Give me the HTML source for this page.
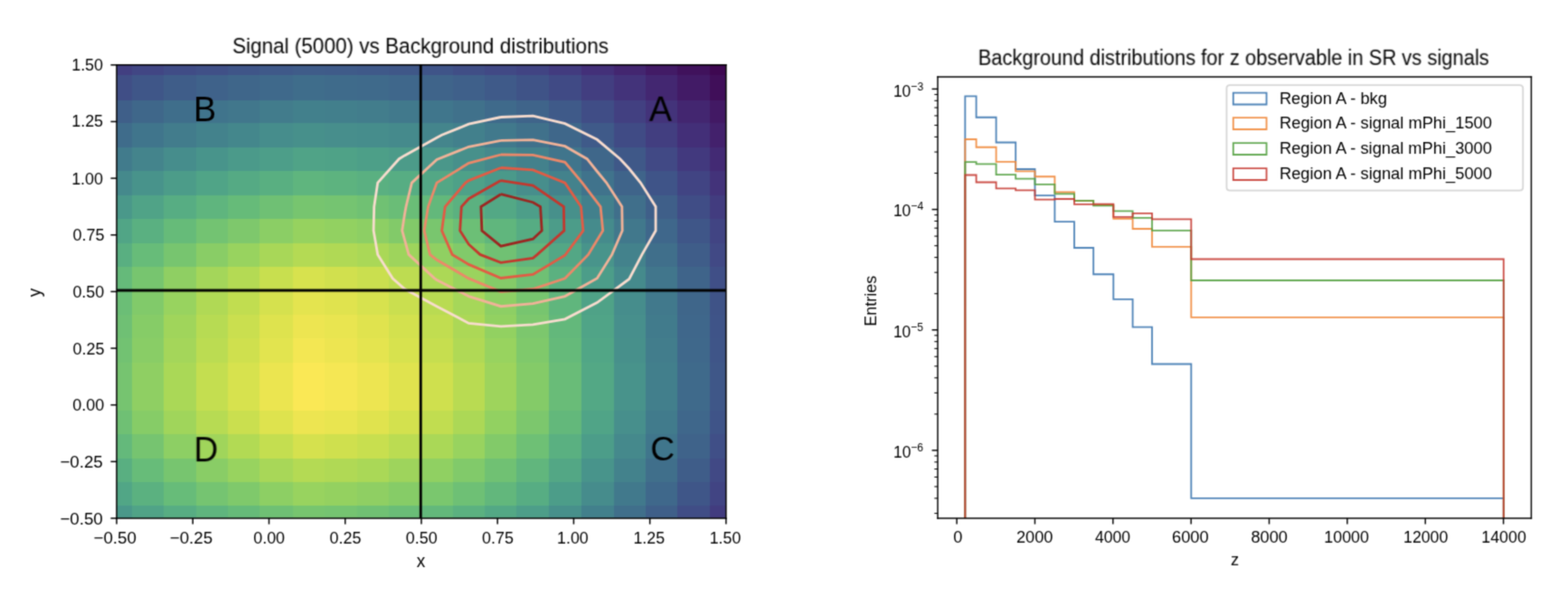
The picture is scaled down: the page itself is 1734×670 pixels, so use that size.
<!DOCTYPE html>
<html lang="en"><head><meta charset="utf-8"><title>Signal vs Background distributions</title>
<style>
html,body{margin:0;padding:0;background:#fff;}
body{width:1734px;height:670px;overflow:hidden;position:relative;font-family:"Liberation Sans",sans-serif;}
svg{display:block;position:absolute;left:0;top:0;}
.t{position:absolute;white-space:nowrap;color:transparent;line-height:1;margin:0;padding:0;font-weight:normal;overflow:hidden;}
.t sup{font-size:70%;line-height:0;}
</style></head><body>
<svg width="1734" height="670" viewBox="0 0 1248.48 482.4"><defs><style type="text/css">*{stroke-linejoin: round; stroke-linecap: butt} text{font-family:"Liberation Sans",sans-serif;fill:#000000;stroke:none}</style></defs><filter id="soft" filterUnits="userSpaceOnUse" x="0" y="0" width="1248.48" height="482.4" color-interpolation-filters="sRGB"><feConvolveMatrix order="3" kernelMatrix="0.03607 0.11778 0.03607 0.11778 0.38462 0.11778 0.03607 0.11778 0.03607" edgeMode="duplicate" preserveAlpha="true"/></filter><g id="figure_1" filter="url(#soft)"><g id="patch_1"><path d="M 0 482.4 L 1248.48 482.4 L 1248.48 0 L 0 0 z " style="fill: #ffffff"/></g><g id="axes_1"><g id="patch_2"><path d="M 92.88 412.56 L 578.088 412.56 L 578.088 51.696 L 92.88 51.696 z " style="fill: #ffffff"/></g><g id="QuadMesh_1" shape-rendering="crispEdges"><path d="M 79.673652 421.850568 L 105.107943 421.850568 L 105.107943 402.291544 L 79.673652 402.291544 L 79.673652 421.850568 " clip-path="url(#p8069fcb72d)" style="fill: #4a988a"/><path d="M 105.107943 421.850568 L 130.542234 421.850568 L 130.542234 402.291544 L 105.107943 402.291544 L 105.107943 421.850568 " clip-path="url(#p8069fcb72d)" style="fill: #50a387"/><path d="M 130.542234 421.850568 L 155.976525 421.850568 L 155.976525 402.291544 L 130.542234 402.291544 L 130.542234 421.850568 " clip-path="url(#p8069fcb72d)" style="fill: #57ad83"/><path d="M 155.976525 421.850568 L 181.410817 421.850568 L 181.410817 402.291544 L 155.976525 402.291544 L 155.976525 421.850568 " clip-path="url(#p8069fcb72d)" style="fill: #5fb57e"/><path d="M 181.410817 421.850568 L 206.845108 421.850568 L 206.845108 402.291544 L 181.410817 402.291544 L 181.410817 421.850568 " clip-path="url(#p8069fcb72d)" style="fill: #66bb79"/><path d="M 206.845108 421.850568 L 233.257641 421.850568 L 233.257641 402.291544 L 206.845108 402.291544 L 206.845108 421.850568 " clip-path="url(#p8069fcb72d)" style="fill: #6fc074"/><path d="M 233.257641 421.850568 L 258.691932 421.850568 L 258.691932 402.291544 L 233.257641 402.291544 L 233.257641 421.850568 " clip-path="url(#p8069fcb72d)" style="fill: #77c56f"/><path d="M 258.691932 421.850568 L 284.126223 421.850568 L 284.126223 402.291544 L 258.691932 402.291544 L 258.691932 421.850568 " clip-path="url(#p8069fcb72d)" style="fill: #75c471"/><path d="M 284.126223 421.850568 L 309.560514 421.850568 L 309.560514 402.291544 L 284.126223 402.291544 L 284.126223 421.850568 " clip-path="url(#p8069fcb72d)" style="fill: #70c173"/><path d="M 309.560514 421.850568 L 334.994806 421.850568 L 334.994806 402.291544 L 309.560514 402.291544 L 309.560514 421.850568 " clip-path="url(#p8069fcb72d)" style="fill: #6abd77"/><path d="M 334.994806 421.850568 L 360.429097 421.850568 L 360.429097 402.291544 L 334.994806 402.291544 L 334.994806 421.850568 " clip-path="url(#p8069fcb72d)" style="fill: #63b87b"/><path d="M 360.429097 421.850568 L 385.863388 421.850568 L 385.863388 402.291544 L 360.429097 402.291544 L 360.429097 421.850568 " clip-path="url(#p8069fcb72d)" style="fill: #5bb180"/><path d="M 385.863388 421.850568 L 411.297679 421.850568 L 411.297679 402.291544 L 385.863388 402.291544 L 385.863388 421.850568 " clip-path="url(#p8069fcb72d)" style="fill: #53a885"/><path d="M 411.297679 421.850568 L 436.73197 421.850568 L 436.73197 402.291544 L 411.297679 402.291544 L 411.297679 421.850568 " clip-path="url(#p8069fcb72d)" style="fill: #4d9e89"/><path d="M 436.73197 421.850568 L 463.144503 421.850568 L 463.144503 402.291544 L 436.73197 402.291544 L 436.73197 421.850568 " clip-path="url(#p8069fcb72d)" style="fill: #47908b"/><path d="M 463.144503 421.850568 L 488.578794 421.850568 L 488.578794 402.291544 L 463.144503 402.291544 L 463.144503 421.850568 " clip-path="url(#p8069fcb72d)" style="fill: #42808c"/><path d="M 488.578794 421.850568 L 514.013086 421.850568 L 514.013086 402.291544 L 488.578794 402.291544 L 488.578794 421.850568 " clip-path="url(#p8069fcb72d)" style="fill: #406f8b"/><path d="M 514.013086 421.850568 L 539.447377 421.850568 L 539.447377 402.291544 L 514.013086 402.291544 L 514.013086 421.850568 " clip-path="url(#p8069fcb72d)" style="fill: #3f5f89"/><path d="M 539.447377 421.850568 L 564.881668 421.850568 L 564.881668 402.291544 L 539.447377 402.291544 L 539.447377 421.850568 " clip-path="url(#p8069fcb72d)" style="fill: #404d86"/><path d="M 564.881668 421.850568 L 590.315959 421.850568 L 590.315959 402.291544 L 564.881668 402.291544 L 564.881668 421.850568 " clip-path="url(#p8069fcb72d)" style="fill: #423c7f"/><path d="M 79.673652 402.291544 L 105.107943 402.291544 L 105.107943 383.71047 L 79.673652 383.71047 L 79.673652 402.291544 " clip-path="url(#p8069fcb72d)" style="fill: #51a686"/><path d="M 105.107943 402.291544 L 130.542234 402.291544 L 130.542234 383.71047 L 105.107943 383.71047 L 105.107943 402.291544 " clip-path="url(#p8069fcb72d)" style="fill: #5bb180"/><path d="M 130.542234 402.291544 L 155.976525 402.291544 L 155.976525 383.71047 L 130.542234 383.71047 L 130.542234 402.291544 " clip-path="url(#p8069fcb72d)" style="fill: #67bc79"/><path d="M 155.976525 402.291544 L 181.410817 402.291544 L 181.410817 383.71047 L 155.976525 383.71047 L 155.976525 402.291544 " clip-path="url(#p8069fcb72d)" style="fill: #75c471"/><path d="M 181.410817 402.291544 L 206.845108 402.291544 L 206.845108 383.71047 L 181.410817 383.71047 L 181.410817 402.291544 " clip-path="url(#p8069fcb72d)" style="fill: #7fc96b"/><path d="M 206.845108 402.291544 L 233.257641 402.291544 L 233.257641 383.71047 L 206.845108 383.71047 L 206.845108 402.291544 " clip-path="url(#p8069fcb72d)" style="fill: #8dcf64"/><path d="M 233.257641 402.291544 L 258.691932 402.291544 L 258.691932 383.71047 L 233.257641 383.71047 L 233.257641 402.291544 " clip-path="url(#p8069fcb72d)" style="fill: #98d35f"/><path d="M 258.691932 402.291544 L 284.126223 402.291544 L 284.126223 383.71047 L 258.691932 383.71047 L 258.691932 402.291544 " clip-path="url(#p8069fcb72d)" style="fill: #94d160"/><path d="M 284.126223 402.291544 L 309.560514 402.291544 L 309.560514 383.71047 L 284.126223 383.71047 L 284.126223 402.291544 " clip-path="url(#p8069fcb72d)" style="fill: #8fcf63"/><path d="M 309.560514 402.291544 L 334.994806 402.291544 L 334.994806 383.71047 L 309.560514 383.71047 L 309.560514 402.291544 " clip-path="url(#p8069fcb72d)" style="fill: #86cc67"/><path d="M 334.994806 402.291544 L 360.429097 402.291544 L 360.429097 383.71047 L 334.994806 383.71047 L 334.994806 402.291544 " clip-path="url(#p8069fcb72d)" style="fill: #7ac76e"/><path d="M 360.429097 402.291544 L 385.863388 402.291544 L 385.863388 383.71047 L 360.429097 383.71047 L 360.429097 402.291544 " clip-path="url(#p8069fcb72d)" style="fill: #6ec075"/><path d="M 385.863388 402.291544 L 411.297679 402.291544 L 411.297679 383.71047 L 385.863388 383.71047 L 385.863388 402.291544 " clip-path="url(#p8069fcb72d)" style="fill: #62b77c"/><path d="M 411.297679 402.291544 L 436.73197 402.291544 L 436.73197 383.71047 L 411.297679 383.71047 L 411.297679 402.291544 " clip-path="url(#p8069fcb72d)" style="fill: #57ad83"/><path d="M 436.73197 402.291544 L 463.144503 402.291544 L 463.144503 383.71047 L 436.73197 383.71047 L 436.73197 402.291544 " clip-path="url(#p8069fcb72d)" style="fill: #4c9d89"/><path d="M 463.144503 402.291544 L 488.578794 402.291544 L 488.578794 383.71047 L 463.144503 383.71047 L 463.144503 402.291544 " clip-path="url(#p8069fcb72d)" style="fill: #468c8c"/><path d="M 488.578794 402.291544 L 514.013086 402.291544 L 514.013086 383.71047 L 488.578794 383.71047 L 488.578794 402.291544 " clip-path="url(#p8069fcb72d)" style="fill: #41798c"/><path d="M 514.013086 402.291544 L 539.447377 402.291544 L 539.447377 383.71047 L 514.013086 383.71047 L 514.013086 402.291544 " clip-path="url(#p8069fcb72d)" style="fill: #3f688b"/><path d="M 539.447377 402.291544 L 564.881668 402.291544 L 564.881668 383.71047 L 539.447377 383.71047 L 539.447377 402.291544 " clip-path="url(#p8069fcb72d)" style="fill: #3f5688"/><path d="M 564.881668 402.291544 L 590.315959 402.291544 L 590.315959 383.71047 L 564.881668 383.71047 L 564.881668 402.291544 " clip-path="url(#p8069fcb72d)" style="fill: #414483"/><path d="M 79.673652 383.71047 L 105.107943 383.71047 L 105.107943 365.129397 L 79.673652 365.129397 L 79.673652 383.71047 " clip-path="url(#p8069fcb72d)" style="fill: #59af81"/><path d="M 105.107943 383.71047 L 130.542234 383.71047 L 130.542234 365.129397 L 105.107943 365.129397 L 105.107943 383.71047 " clip-path="url(#p8069fcb72d)" style="fill: #67bc79"/><path d="M 130.542234 383.71047 L 155.976525 383.71047 L 155.976525 365.129397 L 130.542234 365.129397 L 130.542234 383.71047 " clip-path="url(#p8069fcb72d)" style="fill: #77c56f"/><path d="M 155.976525 383.71047 L 181.410817 383.71047 L 181.410817 365.129397 L 155.976525 365.129397 L 155.976525 383.71047 " clip-path="url(#p8069fcb72d)" style="fill: #89cd66"/><path d="M 181.410817 383.71047 L 206.845108 383.71047 L 206.845108 365.129397 L 181.410817 365.129397 L 181.410817 383.71047 " clip-path="url(#p8069fcb72d)" style="fill: #98d35f"/><path d="M 206.845108 383.71047 L 233.257641 383.71047 L 233.257641 365.129397 L 206.845108 365.129397 L 206.845108 383.71047 " clip-path="url(#p8069fcb72d)" style="fill: #a8d758"/><path d="M 233.257641 383.71047 L 258.691932 383.71047 L 258.691932 365.129397 L 233.257641 365.129397 L 233.257641 383.71047 " clip-path="url(#p8069fcb72d)" style="fill: #b4da54"/><path d="M 258.691932 383.71047 L 284.126223 383.71047 L 284.126223 365.129397 L 258.691932 365.129397 L 258.691932 383.71047 " clip-path="url(#p8069fcb72d)" style="fill: #b0d955"/><path d="M 284.126223 383.71047 L 309.560514 383.71047 L 309.560514 365.129397 L 284.126223 365.129397 L 284.126223 383.71047 " clip-path="url(#p8069fcb72d)" style="fill: #aad857"/><path d="M 309.560514 383.71047 L 334.994806 383.71047 L 334.994806 365.129397 L 309.560514 365.129397 L 309.560514 383.71047 " clip-path="url(#p8069fcb72d)" style="fill: #9ed45c"/><path d="M 334.994806 383.71047 L 360.429097 383.71047 L 360.429097 365.129397 L 334.994806 365.129397 L 334.994806 383.71047 " clip-path="url(#p8069fcb72d)" style="fill: #90d062"/><path d="M 360.429097 383.71047 L 385.863388 383.71047 L 385.863388 365.129397 L 360.429097 365.129397 L 360.429097 383.71047 " clip-path="url(#p8069fcb72d)" style="fill: #81ca6a"/><path d="M 385.863388 383.71047 L 411.297679 383.71047 L 411.297679 365.129397 L 385.863388 365.129397 L 385.863388 383.71047 " clip-path="url(#p8069fcb72d)" style="fill: #70c173"/><path d="M 411.297679 383.71047 L 436.73197 383.71047 L 436.73197 365.129397 L 411.297679 365.129397 L 411.297679 383.71047 " clip-path="url(#p8069fcb72d)" style="fill: #61b67d"/><path d="M 436.73197 383.71047 L 463.144503 383.71047 L 463.144503 365.129397 L 436.73197 365.129397 L 436.73197 383.71047 " clip-path="url(#p8069fcb72d)" style="fill: #53a785"/><path d="M 463.144503 383.71047 L 488.578794 383.71047 L 488.578794 365.129397 L 463.144503 365.129397 L 463.144503 383.71047 " clip-path="url(#p8069fcb72d)" style="fill: #48948b"/><path d="M 488.578794 383.71047 L 514.013086 383.71047 L 514.013086 365.129397 L 488.578794 365.129397 L 488.578794 383.71047 " clip-path="url(#p8069fcb72d)" style="fill: #43828c"/><path d="M 514.013086 383.71047 L 539.447377 383.71047 L 539.447377 365.129397 L 514.013086 365.129397 L 514.013086 383.71047 " clip-path="url(#p8069fcb72d)" style="fill: #406f8b"/><path d="M 539.447377 383.71047 L 564.881668 383.71047 L 564.881668 365.129397 L 539.447377 365.129397 L 539.447377 383.71047 " clip-path="url(#p8069fcb72d)" style="fill: #3f5d89"/><path d="M 564.881668 383.71047 L 590.315959 383.71047 L 590.315959 365.129397 L 564.881668 365.129397 L 564.881668 383.71047 " clip-path="url(#p8069fcb72d)" style="fill: #414985"/><path d="M 79.673652 365.129397 L 105.107943 365.129397 L 105.107943 345.570372 L 79.673652 345.570372 L 79.673652 365.129397 " clip-path="url(#p8069fcb72d)" style="fill: #64b97b"/><path d="M 105.107943 365.129397 L 130.542234 365.129397 L 130.542234 345.570372 L 105.107943 345.570372 L 105.107943 365.129397 " clip-path="url(#p8069fcb72d)" style="fill: #76c470"/><path d="M 130.542234 365.129397 L 155.976525 365.129397 L 155.976525 345.570372 L 130.542234 345.570372 L 130.542234 365.129397 " clip-path="url(#p8069fcb72d)" style="fill: #8dcf64"/><path d="M 155.976525 365.129397 L 181.410817 365.129397 L 181.410817 345.570372 L 155.976525 345.570372 L 155.976525 365.129397 " clip-path="url(#p8069fcb72d)" style="fill: #a0d55b"/><path d="M 181.410817 365.129397 L 206.845108 365.129397 L 206.845108 345.570372 L 181.410817 345.570372 L 181.410817 365.129397 " clip-path="url(#p8069fcb72d)" style="fill: #b2da54"/><path d="M 206.845108 365.129397 L 233.257641 365.129397 L 233.257641 345.570372 L 206.845108 345.570372 L 206.845108 365.129397 " clip-path="url(#p8069fcb72d)" style="fill: #c4de50"/><path d="M 233.257641 365.129397 L 258.691932 365.129397 L 258.691932 345.570372 L 233.257641 345.570372 L 233.257641 365.129397 " clip-path="url(#p8069fcb72d)" style="fill: #d5e14e"/><path d="M 258.691932 365.129397 L 284.126223 365.129397 L 284.126223 345.570372 L 258.691932 345.570372 L 258.691932 365.129397 " clip-path="url(#p8069fcb72d)" style="fill: #cfe04e"/><path d="M 284.126223 365.129397 L 309.560514 365.129397 L 309.560514 345.570372 L 284.126223 345.570372 L 284.126223 365.129397 " clip-path="url(#p8069fcb72d)" style="fill: #c8df4f"/><path d="M 309.560514 365.129397 L 334.994806 365.129397 L 334.994806 345.570372 L 309.560514 345.570372 L 309.560514 365.129397 " clip-path="url(#p8069fcb72d)" style="fill: #bbdc52"/><path d="M 334.994806 365.129397 L 360.429097 365.129397 L 360.429097 345.570372 L 334.994806 345.570372 L 334.994806 365.129397 " clip-path="url(#p8069fcb72d)" style="fill: #aad857"/><path d="M 360.429097 365.129397 L 385.863388 365.129397 L 385.863388 345.570372 L 360.429097 345.570372 L 360.429097 365.129397 " clip-path="url(#p8069fcb72d)" style="fill: #98d35f"/><path d="M 385.863388 365.129397 L 411.297679 365.129397 L 411.297679 345.570372 L 385.863388 345.570372 L 385.863388 365.129397 " clip-path="url(#p8069fcb72d)" style="fill: #82ca69"/><path d="M 411.297679 365.129397 L 436.73197 365.129397 L 436.73197 345.570372 L 411.297679 345.570372 L 411.297679 365.129397 " clip-path="url(#p8069fcb72d)" style="fill: #6ec075"/><path d="M 436.73197 365.129397 L 463.144503 365.129397 L 463.144503 345.570372 L 436.73197 345.570372 L 436.73197 365.129397 " clip-path="url(#p8069fcb72d)" style="fill: #5ab081"/><path d="M 463.144503 365.129397 L 488.578794 365.129397 L 488.578794 345.570372 L 463.144503 345.570372 L 463.144503 365.129397 " clip-path="url(#p8069fcb72d)" style="fill: #4c9d89"/><path d="M 488.578794 365.129397 L 514.013086 365.129397 L 514.013086 345.570372 L 488.578794 345.570372 L 488.578794 365.129397 " clip-path="url(#p8069fcb72d)" style="fill: #45898c"/><path d="M 514.013086 365.129397 L 539.447377 365.129397 L 539.447377 345.570372 L 514.013086 345.570372 L 514.013086 365.129397 " clip-path="url(#p8069fcb72d)" style="fill: #40768c"/><path d="M 539.447377 365.129397 L 564.881668 365.129397 L 564.881668 345.570372 L 539.447377 345.570372 L 539.447377 365.129397 " clip-path="url(#p8069fcb72d)" style="fill: #3f638a"/><path d="M 564.881668 365.129397 L 590.315959 365.129397 L 590.315959 345.570372 L 564.881668 345.570372 L 564.881668 365.129397 " clip-path="url(#p8069fcb72d)" style="fill: #404f87"/><path d="M 79.673652 345.570372 L 105.107943 345.570372 L 105.107943 326.989299 L 79.673652 326.989299 L 79.673652 345.570372 " clip-path="url(#p8069fcb72d)" style="fill: #6fc074"/><path d="M 105.107943 345.570372 L 130.542234 345.570372 L 130.542234 326.989299 L 105.107943 326.989299 L 105.107943 345.570372 " clip-path="url(#p8069fcb72d)" style="fill: #86cc67"/><path d="M 130.542234 345.570372 L 155.976525 345.570372 L 155.976525 326.989299 L 130.542234 326.989299 L 130.542234 345.570372 " clip-path="url(#p8069fcb72d)" style="fill: #a0d55b"/><path d="M 155.976525 345.570372 L 181.410817 345.570372 L 181.410817 326.989299 L 155.976525 326.989299 L 155.976525 345.570372 " clip-path="url(#p8069fcb72d)" style="fill: #b7db53"/><path d="M 181.410817 345.570372 L 206.845108 345.570372 L 206.845108 326.989299 L 181.410817 326.989299 L 181.410817 345.570372 " clip-path="url(#p8069fcb72d)" style="fill: #cadf4f"/><path d="M 206.845108 345.570372 L 233.257641 345.570372 L 233.257641 326.989299 L 206.845108 326.989299 L 206.845108 345.570372 " clip-path="url(#p8069fcb72d)" style="fill: #dee34e"/><path d="M 233.257641 345.570372 L 258.691932 345.570372 L 258.691932 326.989299 L 233.257641 326.989299 L 233.257641 345.570372 " clip-path="url(#p8069fcb72d)" style="fill: #ede551"/><path d="M 258.691932 345.570372 L 284.126223 345.570372 L 284.126223 326.989299 L 258.691932 326.989299 L 258.691932 345.570372 " clip-path="url(#p8069fcb72d)" style="fill: #e9e550"/><path d="M 284.126223 345.570372 L 309.560514 345.570372 L 309.560514 326.989299 L 284.126223 326.989299 L 284.126223 345.570372 " clip-path="url(#p8069fcb72d)" style="fill: #e0e34e"/><path d="M 309.560514 345.570372 L 334.994806 345.570372 L 334.994806 326.989299 L 309.560514 326.989299 L 309.560514 345.570372 " clip-path="url(#p8069fcb72d)" style="fill: #d3e14e"/><path d="M 334.994806 345.570372 L 360.429097 345.570372 L 360.429097 326.989299 L 334.994806 326.989299 L 334.994806 345.570372 " clip-path="url(#p8069fcb72d)" style="fill: #c1dd50"/><path d="M 360.429097 345.570372 L 385.863388 345.570372 L 385.863388 326.989299 L 360.429097 326.989299 L 360.429097 345.570372 " clip-path="url(#p8069fcb72d)" style="fill: #acd856"/><path d="M 385.863388 345.570372 L 411.297679 345.570372 L 411.297679 326.989299 L 385.863388 326.989299 L 385.863388 345.570372 " clip-path="url(#p8069fcb72d)" style="fill: #92d161"/><path d="M 411.297679 345.570372 L 436.73197 345.570372 L 436.73197 326.989299 L 411.297679 326.989299 L 411.297679 345.570372 " clip-path="url(#p8069fcb72d)" style="fill: #7cc76d"/><path d="M 436.73197 345.570372 L 463.144503 345.570372 L 463.144503 326.989299 L 436.73197 326.989299 L 436.73197 345.570372 " clip-path="url(#p8069fcb72d)" style="fill: #63b87b"/><path d="M 463.144503 345.570372 L 488.578794 345.570372 L 488.578794 326.989299 L 463.144503 326.989299 L 463.144503 345.570372 " clip-path="url(#p8069fcb72d)" style="fill: #50a487"/><path d="M 488.578794 345.570372 L 514.013086 345.570372 L 514.013086 326.989299 L 488.578794 326.989299 L 488.578794 345.570372 " clip-path="url(#p8069fcb72d)" style="fill: #478f8c"/><path d="M 514.013086 345.570372 L 539.447377 345.570372 L 539.447377 326.989299 L 514.013086 326.989299 L 514.013086 345.570372 " clip-path="url(#p8069fcb72d)" style="fill: #417b8c"/><path d="M 539.447377 345.570372 L 564.881668 345.570372 L 564.881668 326.989299 L 539.447377 326.989299 L 539.447377 345.570372 " clip-path="url(#p8069fcb72d)" style="fill: #3f678b"/><path d="M 564.881668 345.570372 L 590.315959 345.570372 L 590.315959 326.989299 L 564.881668 326.989299 L 564.881668 345.570372 " clip-path="url(#p8069fcb72d)" style="fill: #3f5488"/><path d="M 79.673652 326.989299 L 105.107943 326.989299 L 105.107943 307.430274 L 79.673652 307.430274 L 79.673652 326.989299 " clip-path="url(#p8069fcb72d)" style="fill: #76c470"/><path d="M 105.107943 326.989299 L 130.542234 326.989299 L 130.542234 307.430274 L 105.107943 307.430274 L 105.107943 326.989299 " clip-path="url(#p8069fcb72d)" style="fill: #8fcf63"/><path d="M 130.542234 326.989299 L 155.976525 326.989299 L 155.976525 307.430274 L 130.542234 307.430274 L 130.542234 326.989299 " clip-path="url(#p8069fcb72d)" style="fill: #aad857"/><path d="M 155.976525 326.989299 L 181.410817 326.989299 L 181.410817 307.430274 L 155.976525 307.430274 L 155.976525 326.989299 " clip-path="url(#p8069fcb72d)" style="fill: #c4de50"/><path d="M 181.410817 326.989299 L 206.845108 326.989299 L 206.845108 307.430274 L 181.410817 307.430274 L 181.410817 326.989299 " clip-path="url(#p8069fcb72d)" style="fill: #d7e24e"/><path d="M 206.845108 326.989299 L 233.257641 326.989299 L 233.257641 307.430274 L 206.845108 307.430274 L 206.845108 326.989299 " clip-path="url(#p8069fcb72d)" style="fill: #ebe550"/><path d="M 233.257641 326.989299 L 258.691932 326.989299 L 258.691932 307.430274 L 233.257641 307.430274 L 233.257641 326.989299 " clip-path="url(#p8069fcb72d)" style="fill: #fae855"/><path d="M 258.691932 326.989299 L 284.126223 326.989299 L 284.126223 307.430274 L 258.691932 307.430274 L 258.691932 326.989299 " clip-path="url(#p8069fcb72d)" style="fill: #f5e754"/><path d="M 284.126223 326.989299 L 309.560514 326.989299 L 309.560514 307.430274 L 284.126223 307.430274 L 284.126223 326.989299 " clip-path="url(#p8069fcb72d)" style="fill: #ede551"/><path d="M 309.560514 326.989299 L 334.994806 326.989299 L 334.994806 307.430274 L 309.560514 307.430274 L 309.560514 326.989299 " clip-path="url(#p8069fcb72d)" style="fill: #e0e34e"/><path d="M 334.994806 326.989299 L 360.429097 326.989299 L 360.429097 307.430274 L 334.994806 307.430274 L 334.994806 326.989299 " clip-path="url(#p8069fcb72d)" style="fill: #cfe04e"/><path d="M 360.429097 326.989299 L 385.863388 326.989299 L 385.863388 307.430274 L 360.429097 307.430274 L 360.429097 326.989299 " clip-path="url(#p8069fcb72d)" style="fill: #b9db52"/><path d="M 385.863388 326.989299 L 411.297679 326.989299 L 411.297679 307.430274 L 385.863388 307.430274 L 385.863388 326.989299 " clip-path="url(#p8069fcb72d)" style="fill: #9ed45c"/><path d="M 411.297679 326.989299 L 436.73197 326.989299 L 436.73197 307.430274 L 411.297679 307.430274 L 411.297679 326.989299 " clip-path="url(#p8069fcb72d)" style="fill: #84cb68"/><path d="M 436.73197 326.989299 L 463.144503 326.989299 L 463.144503 307.430274 L 436.73197 307.430274 L 436.73197 326.989299 " clip-path="url(#p8069fcb72d)" style="fill: #69bc78"/><path d="M 463.144503 326.989299 L 488.578794 326.989299 L 488.578794 307.430274 L 463.144503 307.430274 L 463.144503 326.989299 " clip-path="url(#p8069fcb72d)" style="fill: #53a885"/><path d="M 488.578794 326.989299 L 514.013086 326.989299 L 514.013086 307.430274 L 488.578794 307.430274 L 488.578794 326.989299 " clip-path="url(#p8069fcb72d)" style="fill: #48938b"/><path d="M 514.013086 326.989299 L 539.447377 326.989299 L 539.447377 307.430274 L 514.013086 307.430274 L 514.013086 326.989299 " clip-path="url(#p8069fcb72d)" style="fill: #427f8c"/><path d="M 539.447377 326.989299 L 564.881668 326.989299 L 564.881668 307.430274 L 539.447377 307.430274 L 539.447377 326.989299 " clip-path="url(#p8069fcb72d)" style="fill: #3f6a8b"/><path d="M 564.881668 326.989299 L 590.315959 326.989299 L 590.315959 307.430274 L 564.881668 307.430274 L 564.881668 326.989299 " clip-path="url(#p8069fcb72d)" style="fill: #3f5788"/><path d="M 79.673652 307.430274 L 105.107943 307.430274 L 105.107943 288.849201 L 79.673652 288.849201 L 79.673652 307.430274 " clip-path="url(#p8069fcb72d)" style="fill: #76c470"/><path d="M 105.107943 307.430274 L 130.542234 307.430274 L 130.542234 288.849201 L 105.107943 288.849201 L 105.107943 307.430274 " clip-path="url(#p8069fcb72d)" style="fill: #8fcf63"/><path d="M 130.542234 307.430274 L 155.976525 307.430274 L 155.976525 288.849201 L 130.542234 288.849201 L 130.542234 307.430274 " clip-path="url(#p8069fcb72d)" style="fill: #aad857"/><path d="M 155.976525 307.430274 L 181.410817 307.430274 L 181.410817 288.849201 L 155.976525 288.849201 L 155.976525 307.430274 " clip-path="url(#p8069fcb72d)" style="fill: #c4de50"/><path d="M 181.410817 307.430274 L 206.845108 307.430274 L 206.845108 288.849201 L 181.410817 288.849201 L 181.410817 307.430274 " clip-path="url(#p8069fcb72d)" style="fill: #d7e24e"/><path d="M 206.845108 307.430274 L 233.257641 307.430274 L 233.257641 288.849201 L 206.845108 288.849201 L 206.845108 307.430274 " clip-path="url(#p8069fcb72d)" style="fill: #ebe550"/><path d="M 233.257641 307.430274 L 258.691932 307.430274 L 258.691932 288.849201 L 233.257641 288.849201 L 233.257641 307.430274 " clip-path="url(#p8069fcb72d)" style="fill: #fae855"/><path d="M 258.691932 307.430274 L 284.126223 307.430274 L 284.126223 288.849201 L 258.691932 288.849201 L 258.691932 307.430274 " clip-path="url(#p8069fcb72d)" style="fill: #f5e754"/><path d="M 284.126223 307.430274 L 309.560514 307.430274 L 309.560514 288.849201 L 284.126223 288.849201 L 284.126223 307.430274 " clip-path="url(#p8069fcb72d)" style="fill: #ede551"/><path d="M 309.560514 307.430274 L 334.994806 307.430274 L 334.994806 288.849201 L 309.560514 288.849201 L 309.560514 307.430274 " clip-path="url(#p8069fcb72d)" style="fill: #e0e34e"/><path d="M 334.994806 307.430274 L 360.429097 307.430274 L 360.429097 288.849201 L 334.994806 288.849201 L 334.994806 307.430274 " clip-path="url(#p8069fcb72d)" style="fill: #cfe04e"/><path d="M 360.429097 307.430274 L 385.863388 307.430274 L 385.863388 288.849201 L 360.429097 288.849201 L 360.429097 307.430274 " clip-path="url(#p8069fcb72d)" style="fill: #b9db52"/><path d="M 385.863388 307.430274 L 411.297679 307.430274 L 411.297679 288.849201 L 385.863388 288.849201 L 385.863388 307.430274 " clip-path="url(#p8069fcb72d)" style="fill: #9ed45c"/><path d="M 411.297679 307.430274 L 436.73197 307.430274 L 436.73197 288.849201 L 411.297679 288.849201 L 411.297679 307.430274 " clip-path="url(#p8069fcb72d)" style="fill: #84cb68"/><path d="M 436.73197 307.430274 L 463.144503 307.430274 L 463.144503 288.849201 L 436.73197 288.849201 L 436.73197 307.430274 " clip-path="url(#p8069fcb72d)" style="fill: #69bc78"/><path d="M 463.144503 307.430274 L 488.578794 307.430274 L 488.578794 288.849201 L 463.144503 288.849201 L 463.144503 307.430274 " clip-path="url(#p8069fcb72d)" style="fill: #53a885"/><path d="M 488.578794 307.430274 L 514.013086 307.430274 L 514.013086 288.849201 L 488.578794 288.849201 L 488.578794 307.430274 " clip-path="url(#p8069fcb72d)" style="fill: #48938b"/><path d="M 514.013086 307.430274 L 539.447377 307.430274 L 539.447377 288.849201 L 514.013086 288.849201 L 514.013086 307.430274 " clip-path="url(#p8069fcb72d)" style="fill: #427f8c"/><path d="M 539.447377 307.430274 L 564.881668 307.430274 L 564.881668 288.849201 L 539.447377 288.849201 L 539.447377 307.430274 " clip-path="url(#p8069fcb72d)" style="fill: #3f6a8b"/><path d="M 564.881668 307.430274 L 590.315959 307.430274 L 590.315959 288.849201 L 564.881668 288.849201 L 564.881668 307.430274 " clip-path="url(#p8069fcb72d)" style="fill: #3f5788"/><path d="M 79.673652 288.849201 L 105.107943 288.849201 L 105.107943 269.290176 L 79.673652 269.290176 L 79.673652 288.849201 " clip-path="url(#p8069fcb72d)" style="fill: #72c272"/><path d="M 105.107943 288.849201 L 130.542234 288.849201 L 130.542234 269.290176 L 105.107943 269.290176 L 105.107943 288.849201 " clip-path="url(#p8069fcb72d)" style="fill: #89cd66"/><path d="M 130.542234 288.849201 L 155.976525 288.849201 L 155.976525 269.290176 L 130.542234 269.290176 L 130.542234 288.849201 " clip-path="url(#p8069fcb72d)" style="fill: #a4d65a"/><path d="M 155.976525 288.849201 L 181.410817 288.849201 L 181.410817 269.290176 L 155.976525 269.290176 L 155.976525 288.849201 " clip-path="url(#p8069fcb72d)" style="fill: #bbdc52"/><path d="M 181.410817 288.849201 L 206.845108 288.849201 L 206.845108 269.290176 L 181.410817 269.290176 L 181.410817 288.849201 " clip-path="url(#p8069fcb72d)" style="fill: #cfe04e"/><path d="M 206.845108 288.849201 L 233.257641 288.849201 L 233.257641 269.290176 L 206.845108 269.290176 L 206.845108 288.849201 " clip-path="url(#p8069fcb72d)" style="fill: #e2e44f"/><path d="M 233.257641 288.849201 L 258.691932 288.849201 L 258.691932 269.290176 L 233.257641 269.290176 L 233.257641 288.849201 " clip-path="url(#p8069fcb72d)" style="fill: #f3e753"/><path d="M 258.691932 288.849201 L 284.126223 288.849201 L 284.126223 269.290176 L 258.691932 269.290176 L 258.691932 288.849201 " clip-path="url(#p8069fcb72d)" style="fill: #ede551"/><path d="M 284.126223 288.849201 L 309.560514 288.849201 L 309.560514 269.290176 L 284.126223 269.290176 L 284.126223 288.849201 " clip-path="url(#p8069fcb72d)" style="fill: #e4e44f"/><path d="M 309.560514 288.849201 L 334.994806 288.849201 L 334.994806 269.290176 L 309.560514 269.290176 L 309.560514 288.849201 " clip-path="url(#p8069fcb72d)" style="fill: #d7e24e"/><path d="M 334.994806 288.849201 L 360.429097 288.849201 L 360.429097 269.290176 L 334.994806 269.290176 L 334.994806 288.849201 " clip-path="url(#p8069fcb72d)" style="fill: #c6de4f"/><path d="M 360.429097 288.849201 L 385.863388 288.849201 L 385.863388 269.290176 L 360.429097 269.290176 L 360.429097 288.849201 " clip-path="url(#p8069fcb72d)" style="fill: #b0d955"/><path d="M 385.863388 288.849201 L 411.297679 288.849201 L 411.297679 269.290176 L 385.863388 269.290176 L 385.863388 288.849201 " clip-path="url(#p8069fcb72d)" style="fill: #98d35f"/><path d="M 411.297679 288.849201 L 436.73197 288.849201 L 436.73197 269.290176 L 411.297679 269.290176 L 411.297679 288.849201 " clip-path="url(#p8069fcb72d)" style="fill: #7fc96b"/><path d="M 436.73197 288.849201 L 463.144503 288.849201 L 463.144503 269.290176 L 436.73197 269.290176 L 436.73197 288.849201 " clip-path="url(#p8069fcb72d)" style="fill: #65ba7a"/><path d="M 463.144503 288.849201 L 488.578794 288.849201 L 488.578794 269.290176 L 463.144503 269.290176 L 463.144503 288.849201 " clip-path="url(#p8069fcb72d)" style="fill: #51a686"/><path d="M 488.578794 288.849201 L 514.013086 288.849201 L 514.013086 269.290176 L 488.578794 269.290176 L 488.578794 288.849201 " clip-path="url(#p8069fcb72d)" style="fill: #47908b"/><path d="M 514.013086 288.849201 L 539.447377 288.849201 L 539.447377 269.290176 L 514.013086 269.290176 L 514.013086 288.849201 " clip-path="url(#p8069fcb72d)" style="fill: #427d8c"/><path d="M 539.447377 288.849201 L 564.881668 288.849201 L 564.881668 269.290176 L 539.447377 269.290176 L 539.447377 288.849201 " clip-path="url(#p8069fcb72d)" style="fill: #3f688b"/><path d="M 564.881668 288.849201 L 590.315959 288.849201 L 590.315959 269.290176 L 564.881668 269.290176 L 564.881668 288.849201 " clip-path="url(#p8069fcb72d)" style="fill: #3f5588"/><path d="M 79.673652 269.290176 L 105.107943 269.290176 L 105.107943 250.709103 L 79.673652 250.709103 L 79.673652 269.290176 " clip-path="url(#p8069fcb72d)" style="fill: #6fc074"/><path d="M 105.107943 269.290176 L 130.542234 269.290176 L 130.542234 250.709103 L 105.107943 250.709103 L 105.107943 269.290176 " clip-path="url(#p8069fcb72d)" style="fill: #86cc67"/><path d="M 130.542234 269.290176 L 155.976525 269.290176 L 155.976525 250.709103 L 130.542234 250.709103 L 130.542234 269.290176 " clip-path="url(#p8069fcb72d)" style="fill: #a0d55b"/><path d="M 155.976525 269.290176 L 181.410817 269.290176 L 181.410817 250.709103 L 155.976525 250.709103 L 155.976525 269.290176 " clip-path="url(#p8069fcb72d)" style="fill: #b7db53"/><path d="M 181.410817 269.290176 L 206.845108 269.290176 L 206.845108 250.709103 L 181.410817 250.709103 L 181.410817 269.290176 " clip-path="url(#p8069fcb72d)" style="fill: #cadf4f"/><path d="M 206.845108 269.290176 L 233.257641 269.290176 L 233.257641 250.709103 L 206.845108 250.709103 L 206.845108 269.290176 " clip-path="url(#p8069fcb72d)" style="fill: #dee34e"/><path d="M 233.257641 269.290176 L 258.691932 269.290176 L 258.691932 250.709103 L 233.257641 250.709103 L 233.257641 269.290176 " clip-path="url(#p8069fcb72d)" style="fill: #ede551"/><path d="M 258.691932 269.290176 L 284.126223 269.290176 L 284.126223 250.709103 L 258.691932 250.709103 L 258.691932 269.290176 " clip-path="url(#p8069fcb72d)" style="fill: #e9e550"/><path d="M 284.126223 269.290176 L 309.560514 269.290176 L 309.560514 250.709103 L 284.126223 250.709103 L 284.126223 269.290176 " clip-path="url(#p8069fcb72d)" style="fill: #e0e34e"/><path d="M 309.560514 269.290176 L 334.994806 269.290176 L 334.994806 250.709103 L 309.560514 250.709103 L 309.560514 269.290176 " clip-path="url(#p8069fcb72d)" style="fill: #d3e14e"/><path d="M 334.994806 269.290176 L 360.429097 269.290176 L 360.429097 250.709103 L 334.994806 250.709103 L 334.994806 269.290176 " clip-path="url(#p8069fcb72d)" style="fill: #c1dd50"/><path d="M 360.429097 269.290176 L 385.863388 269.290176 L 385.863388 250.709103 L 360.429097 250.709103 L 360.429097 269.290176 " clip-path="url(#p8069fcb72d)" style="fill: #acd856"/><path d="M 385.863388 269.290176 L 411.297679 269.290176 L 411.297679 250.709103 L 385.863388 250.709103 L 385.863388 269.290176 " clip-path="url(#p8069fcb72d)" style="fill: #92d161"/><path d="M 411.297679 269.290176 L 436.73197 269.290176 L 436.73197 250.709103 L 411.297679 250.709103 L 411.297679 269.290176 " clip-path="url(#p8069fcb72d)" style="fill: #7cc76d"/><path d="M 436.73197 269.290176 L 463.144503 269.290176 L 463.144503 250.709103 L 436.73197 250.709103 L 436.73197 269.290176 " clip-path="url(#p8069fcb72d)" style="fill: #63b87b"/><path d="M 463.144503 269.290176 L 488.578794 269.290176 L 488.578794 250.709103 L 463.144503 250.709103 L 463.144503 269.290176 " clip-path="url(#p8069fcb72d)" style="fill: #50a487"/><path d="M 488.578794 269.290176 L 514.013086 269.290176 L 514.013086 250.709103 L 488.578794 250.709103 L 488.578794 269.290176 " clip-path="url(#p8069fcb72d)" style="fill: #478f8c"/><path d="M 514.013086 269.290176 L 539.447377 269.290176 L 539.447377 250.709103 L 514.013086 250.709103 L 514.013086 269.290176 " clip-path="url(#p8069fcb72d)" style="fill: #417b8c"/><path d="M 539.447377 269.290176 L 564.881668 269.290176 L 564.881668 250.709103 L 539.447377 250.709103 L 539.447377 269.290176 " clip-path="url(#p8069fcb72d)" style="fill: #3f678b"/><path d="M 564.881668 269.290176 L 590.315959 269.290176 L 590.315959 250.709103 L 564.881668 250.709103 L 564.881668 269.290176 " clip-path="url(#p8069fcb72d)" style="fill: #3f5488"/><path d="M 79.673652 250.709103 L 105.107943 250.709103 L 105.107943 231.150078 L 79.673652 231.150078 L 79.673652 250.709103 " clip-path="url(#p8069fcb72d)" style="fill: #6bbe76"/><path d="M 105.107943 250.709103 L 130.542234 250.709103 L 130.542234 231.150078 L 105.107943 231.150078 L 105.107943 250.709103 " clip-path="url(#p8069fcb72d)" style="fill: #81ca6a"/><path d="M 130.542234 250.709103 L 155.976525 250.709103 L 155.976525 231.150078 L 130.542234 231.150078 L 130.542234 250.709103 " clip-path="url(#p8069fcb72d)" style="fill: #98d35f"/><path d="M 155.976525 250.709103 L 181.410817 250.709103 L 181.410817 231.150078 L 155.976525 231.150078 L 155.976525 250.709103 " clip-path="url(#p8069fcb72d)" style="fill: #b0d955"/><path d="M 181.410817 250.709103 L 206.845108 250.709103 L 206.845108 231.150078 L 181.410817 231.150078 L 181.410817 250.709103 " clip-path="url(#p8069fcb72d)" style="fill: #c1dd50"/><path d="M 206.845108 250.709103 L 233.257641 250.709103 L 233.257641 231.150078 L 206.845108 231.150078 L 206.845108 250.709103 " clip-path="url(#p8069fcb72d)" style="fill: #d5e14e"/><path d="M 233.257641 250.709103 L 258.691932 250.709103 L 258.691932 231.150078 L 233.257641 231.150078 L 233.257641 250.709103 " clip-path="url(#p8069fcb72d)" style="fill: #e4e44f"/><path d="M 258.691932 250.709103 L 284.126223 250.709103 L 284.126223 231.150078 L 258.691932 231.150078 L 258.691932 250.709103 " clip-path="url(#p8069fcb72d)" style="fill: #e0e34e"/><path d="M 284.126223 250.709103 L 309.560514 250.709103 L 309.560514 231.150078 L 284.126223 231.150078 L 284.126223 250.709103 " clip-path="url(#p8069fcb72d)" style="fill: #d7e24e"/><path d="M 309.560514 250.709103 L 334.994806 250.709103 L 334.994806 231.150078 L 309.560514 231.150078 L 309.560514 250.709103 " clip-path="url(#p8069fcb72d)" style="fill: #cadf4f"/><path d="M 334.994806 250.709103 L 360.429097 250.709103 L 360.429097 231.150078 L 334.994806 231.150078 L 334.994806 250.709103 " clip-path="url(#p8069fcb72d)" style="fill: #b9db52"/><path d="M 360.429097 250.709103 L 385.863388 250.709103 L 385.863388 231.150078 L 360.429097 231.150078 L 360.429097 250.709103 " clip-path="url(#p8069fcb72d)" style="fill: #a6d759"/><path d="M 385.863388 250.709103 L 411.297679 250.709103 L 411.297679 231.150078 L 385.863388 231.150078 L 385.863388 250.709103 " clip-path="url(#p8069fcb72d)" style="fill: #8dcf64"/><path d="M 411.297679 250.709103 L 436.73197 250.709103 L 436.73197 231.150078 L 411.297679 231.150078 L 411.297679 250.709103 " clip-path="url(#p8069fcb72d)" style="fill: #77c56f"/><path d="M 436.73197 250.709103 L 463.144503 250.709103 L 463.144503 231.150078 L 436.73197 231.150078 L 436.73197 250.709103 " clip-path="url(#p8069fcb72d)" style="fill: #60b67d"/><path d="M 463.144503 250.709103 L 488.578794 250.709103 L 488.578794 231.150078 L 463.144503 231.150078 L 463.144503 250.709103 " clip-path="url(#p8069fcb72d)" style="fill: #4fa287"/><path d="M 488.578794 250.709103 L 514.013086 250.709103 L 514.013086 231.150078 L 488.578794 231.150078 L 488.578794 250.709103 " clip-path="url(#p8069fcb72d)" style="fill: #468d8c"/><path d="M 514.013086 250.709103 L 539.447377 250.709103 L 539.447377 231.150078 L 514.013086 231.150078 L 514.013086 250.709103 " clip-path="url(#p8069fcb72d)" style="fill: #41798c"/><path d="M 539.447377 250.709103 L 564.881668 250.709103 L 564.881668 231.150078 L 539.447377 231.150078 L 539.447377 250.709103 " clip-path="url(#p8069fcb72d)" style="fill: #3f668a"/><path d="M 564.881668 250.709103 L 590.315959 250.709103 L 590.315959 231.150078 L 564.881668 231.150078 L 564.881668 250.709103 " clip-path="url(#p8069fcb72d)" style="fill: #3f5387"/><path d="M 79.673652 231.150078 L 105.107943 231.150078 L 105.107943 212.569005 L 79.673652 212.569005 L 79.673652 231.150078 " clip-path="url(#p8069fcb72d)" style="fill: #65ba7a"/><path d="M 105.107943 231.150078 L 130.542234 231.150078 L 130.542234 212.569005 L 105.107943 212.569005 L 105.107943 231.150078 " clip-path="url(#p8069fcb72d)" style="fill: #77c56f"/><path d="M 130.542234 231.150078 L 155.976525 231.150078 L 155.976525 212.569005 L 130.542234 212.569005 L 130.542234 231.150078 " clip-path="url(#p8069fcb72d)" style="fill: #8fcf63"/><path d="M 155.976525 231.150078 L 181.410817 231.150078 L 181.410817 212.569005 L 155.976525 212.569005 L 155.976525 231.150078 " clip-path="url(#p8069fcb72d)" style="fill: #a4d65a"/><path d="M 181.410817 231.150078 L 206.845108 231.150078 L 206.845108 212.569005 L 181.410817 212.569005 L 181.410817 231.150078 " clip-path="url(#p8069fcb72d)" style="fill: #b4da54"/><path d="M 206.845108 231.150078 L 233.257641 231.150078 L 233.257641 212.569005 L 206.845108 212.569005 L 206.845108 231.150078 " clip-path="url(#p8069fcb72d)" style="fill: #c8df4f"/><path d="M 233.257641 231.150078 L 258.691932 231.150078 L 258.691932 212.569005 L 233.257641 212.569005 L 233.257641 231.150078 " clip-path="url(#p8069fcb72d)" style="fill: #d7e24e"/><path d="M 258.691932 231.150078 L 284.126223 231.150078 L 284.126223 212.569005 L 258.691932 212.569005 L 258.691932 231.150078 " clip-path="url(#p8069fcb72d)" style="fill: #d1e04e"/><path d="M 284.126223 231.150078 L 309.560514 231.150078 L 309.560514 212.569005 L 284.126223 212.569005 L 284.126223 231.150078 " clip-path="url(#p8069fcb72d)" style="fill: #cadf4f"/><path d="M 309.560514 231.150078 L 334.994806 231.150078 L 334.994806 212.569005 L 309.560514 212.569005 L 309.560514 231.150078 " clip-path="url(#p8069fcb72d)" style="fill: #bddc51"/><path d="M 334.994806 231.150078 L 360.429097 231.150078 L 360.429097 212.569005 L 334.994806 212.569005 L 334.994806 231.150078 " clip-path="url(#p8069fcb72d)" style="fill: #acd856"/><path d="M 360.429097 231.150078 L 385.863388 231.150078 L 385.863388 212.569005 L 360.429097 212.569005 L 360.429097 231.150078 " clip-path="url(#p8069fcb72d)" style="fill: #9ad35e"/><path d="M 385.863388 231.150078 L 411.297679 231.150078 L 411.297679 212.569005 L 385.863388 212.569005 L 385.863388 231.150078 " clip-path="url(#p8069fcb72d)" style="fill: #84cb68"/><path d="M 411.297679 231.150078 L 436.73197 231.150078 L 436.73197 212.569005 L 411.297679 212.569005 L 411.297679 231.150078 " clip-path="url(#p8069fcb72d)" style="fill: #6fc074"/><path d="M 436.73197 231.150078 L 463.144503 231.150078 L 463.144503 212.569005 L 436.73197 212.569005 L 436.73197 231.150078 " clip-path="url(#p8069fcb72d)" style="fill: #5bb180"/><path d="M 463.144503 231.150078 L 488.578794 231.150078 L 488.578794 212.569005 L 463.144503 212.569005 L 463.144503 231.150078 " clip-path="url(#p8069fcb72d)" style="fill: #4c9d89"/><path d="M 488.578794 231.150078 L 514.013086 231.150078 L 514.013086 212.569005 L 488.578794 212.569005 L 488.578794 231.150078 " clip-path="url(#p8069fcb72d)" style="fill: #458a8c"/><path d="M 514.013086 231.150078 L 539.447377 231.150078 L 539.447377 212.569005 L 514.013086 212.569005 L 514.013086 231.150078 " clip-path="url(#p8069fcb72d)" style="fill: #41768c"/><path d="M 539.447377 231.150078 L 564.881668 231.150078 L 564.881668 212.569005 L 539.447377 212.569005 L 539.447377 231.150078 " clip-path="url(#p8069fcb72d)" style="fill: #3f648a"/><path d="M 564.881668 231.150078 L 590.315959 231.150078 L 590.315959 212.569005 L 564.881668 212.569005 L 564.881668 231.150078 " clip-path="url(#p8069fcb72d)" style="fill: #404f87"/><path d="M 79.673652 212.569005 L 105.107943 212.569005 L 105.107943 193.987931 L 79.673652 193.987931 L 79.673652 212.569005 " clip-path="url(#p8069fcb72d)" style="fill: #59af81"/><path d="M 105.107943 212.569005 L 130.542234 212.569005 L 130.542234 193.987931 L 105.107943 193.987931 L 105.107943 212.569005 " clip-path="url(#p8069fcb72d)" style="fill: #67bc79"/><path d="M 130.542234 212.569005 L 155.976525 212.569005 L 155.976525 193.987931 L 130.542234 193.987931 L 130.542234 212.569005 " clip-path="url(#p8069fcb72d)" style="fill: #77c56f"/><path d="M 155.976525 212.569005 L 181.410817 212.569005 L 181.410817 193.987931 L 155.976525 193.987931 L 155.976525 212.569005 " clip-path="url(#p8069fcb72d)" style="fill: #89cd66"/><path d="M 181.410817 212.569005 L 206.845108 212.569005 L 206.845108 193.987931 L 181.410817 193.987931 L 181.410817 212.569005 " clip-path="url(#p8069fcb72d)" style="fill: #98d35f"/><path d="M 206.845108 212.569005 L 233.257641 212.569005 L 233.257641 193.987931 L 206.845108 193.987931 L 206.845108 212.569005 " clip-path="url(#p8069fcb72d)" style="fill: #a8d758"/><path d="M 233.257641 212.569005 L 258.691932 212.569005 L 258.691932 193.987931 L 233.257641 193.987931 L 233.257641 212.569005 " clip-path="url(#p8069fcb72d)" style="fill: #b4da54"/><path d="M 258.691932 212.569005 L 284.126223 212.569005 L 284.126223 193.987931 L 258.691932 193.987931 L 258.691932 212.569005 " clip-path="url(#p8069fcb72d)" style="fill: #b0d955"/><path d="M 284.126223 212.569005 L 309.560514 212.569005 L 309.560514 193.987931 L 284.126223 193.987931 L 284.126223 212.569005 " clip-path="url(#p8069fcb72d)" style="fill: #aad857"/><path d="M 309.560514 212.569005 L 334.994806 212.569005 L 334.994806 193.987931 L 309.560514 193.987931 L 309.560514 212.569005 " clip-path="url(#p8069fcb72d)" style="fill: #9ed45c"/><path d="M 334.994806 212.569005 L 360.429097 212.569005 L 360.429097 193.987931 L 334.994806 193.987931 L 334.994806 212.569005 " clip-path="url(#p8069fcb72d)" style="fill: #90d062"/><path d="M 360.429097 212.569005 L 385.863388 212.569005 L 385.863388 193.987931 L 360.429097 193.987931 L 360.429097 212.569005 " clip-path="url(#p8069fcb72d)" style="fill: #81ca6a"/><path d="M 385.863388 212.569005 L 411.297679 212.569005 L 411.297679 193.987931 L 385.863388 193.987931 L 385.863388 212.569005 " clip-path="url(#p8069fcb72d)" style="fill: #70c173"/><path d="M 411.297679 212.569005 L 436.73197 212.569005 L 436.73197 193.987931 L 411.297679 193.987931 L 411.297679 212.569005 " clip-path="url(#p8069fcb72d)" style="fill: #61b67d"/><path d="M 436.73197 212.569005 L 463.144503 212.569005 L 463.144503 193.987931 L 436.73197 193.987931 L 436.73197 212.569005 " clip-path="url(#p8069fcb72d)" style="fill: #53a785"/><path d="M 463.144503 212.569005 L 488.578794 212.569005 L 488.578794 193.987931 L 463.144503 193.987931 L 463.144503 212.569005 " clip-path="url(#p8069fcb72d)" style="fill: #48948b"/><path d="M 488.578794 212.569005 L 514.013086 212.569005 L 514.013086 193.987931 L 488.578794 193.987931 L 488.578794 212.569005 " clip-path="url(#p8069fcb72d)" style="fill: #43828c"/><path d="M 514.013086 212.569005 L 539.447377 212.569005 L 539.447377 193.987931 L 514.013086 193.987931 L 514.013086 212.569005 " clip-path="url(#p8069fcb72d)" style="fill: #406f8b"/><path d="M 539.447377 212.569005 L 564.881668 212.569005 L 564.881668 193.987931 L 539.447377 193.987931 L 539.447377 212.569005 " clip-path="url(#p8069fcb72d)" style="fill: #3f5d89"/><path d="M 564.881668 212.569005 L 590.315959 212.569005 L 590.315959 193.987931 L 564.881668 193.987931 L 564.881668 212.569005 " clip-path="url(#p8069fcb72d)" style="fill: #414985"/><path d="M 79.673652 193.987931 L 105.107943 193.987931 L 105.107943 174.428907 L 79.673652 174.428907 L 79.673652 193.987931 " clip-path="url(#p8069fcb72d)" style="fill: #51a586"/><path d="M 105.107943 193.987931 L 130.542234 193.987931 L 130.542234 174.428907 L 105.107943 174.428907 L 105.107943 193.987931 " clip-path="url(#p8069fcb72d)" style="fill: #5ab081"/><path d="M 130.542234 193.987931 L 155.976525 193.987931 L 155.976525 174.428907 L 130.542234 174.428907 L 130.542234 193.987931 " clip-path="url(#p8069fcb72d)" style="fill: #66bb79"/><path d="M 155.976525 193.987931 L 181.410817 193.987931 L 181.410817 174.428907 L 155.976525 174.428907 L 155.976525 193.987931 " clip-path="url(#p8069fcb72d)" style="fill: #73c372"/><path d="M 181.410817 193.987931 L 206.845108 193.987931 L 206.845108 174.428907 L 181.410817 174.428907 L 181.410817 193.987931 " clip-path="url(#p8069fcb72d)" style="fill: #7ec86c"/><path d="M 206.845108 193.987931 L 233.257641 193.987931 L 233.257641 174.428907 L 206.845108 174.428907 L 206.845108 193.987931 " clip-path="url(#p8069fcb72d)" style="fill: #8bce65"/><path d="M 233.257641 193.987931 L 258.691932 193.987931 L 258.691932 174.428907 L 233.257641 174.428907 L 233.257641 193.987931 " clip-path="url(#p8069fcb72d)" style="fill: #96d25f"/><path d="M 258.691932 193.987931 L 284.126223 193.987931 L 284.126223 174.428907 L 258.691932 174.428907 L 258.691932 193.987931 " clip-path="url(#p8069fcb72d)" style="fill: #92d161"/><path d="M 284.126223 193.987931 L 309.560514 193.987931 L 309.560514 174.428907 L 284.126223 174.428907 L 284.126223 193.987931 " clip-path="url(#p8069fcb72d)" style="fill: #8dcf64"/><path d="M 309.560514 193.987931 L 334.994806 193.987931 L 334.994806 174.428907 L 309.560514 174.428907 L 309.560514 193.987931 " clip-path="url(#p8069fcb72d)" style="fill: #82ca69"/><path d="M 334.994806 193.987931 L 360.429097 193.987931 L 360.429097 174.428907 L 334.994806 174.428907 L 334.994806 193.987931 " clip-path="url(#p8069fcb72d)" style="fill: #79c66e"/><path d="M 360.429097 193.987931 L 385.863388 193.987931 L 385.863388 174.428907 L 360.429097 174.428907 L 360.429097 193.987931 " clip-path="url(#p8069fcb72d)" style="fill: #6cbf76"/><path d="M 385.863388 193.987931 L 411.297679 193.987931 L 411.297679 174.428907 L 385.863388 174.428907 L 385.863388 193.987931 " clip-path="url(#p8069fcb72d)" style="fill: #60b67d"/><path d="M 411.297679 193.987931 L 436.73197 193.987931 L 436.73197 174.428907 L 411.297679 174.428907 L 411.297679 193.987931 " clip-path="url(#p8069fcb72d)" style="fill: #56ac83"/><path d="M 436.73197 193.987931 L 463.144503 193.987931 L 463.144503 174.428907 L 436.73197 174.428907 L 436.73197 193.987931 " clip-path="url(#p8069fcb72d)" style="fill: #4c9c89"/><path d="M 463.144503 193.987931 L 488.578794 193.987931 L 488.578794 174.428907 L 463.144503 174.428907 L 463.144503 193.987931 " clip-path="url(#p8069fcb72d)" style="fill: #458b8c"/><path d="M 488.578794 193.987931 L 514.013086 193.987931 L 514.013086 174.428907 L 488.578794 174.428907 L 488.578794 193.987931 " clip-path="url(#p8069fcb72d)" style="fill: #41788c"/><path d="M 514.013086 193.987931 L 539.447377 193.987931 L 539.447377 174.428907 L 514.013086 174.428907 L 514.013086 193.987931 " clip-path="url(#p8069fcb72d)" style="fill: #3f678b"/><path d="M 539.447377 193.987931 L 564.881668 193.987931 L 564.881668 174.428907 L 539.447377 174.428907 L 539.447377 193.987931 " clip-path="url(#p8069fcb72d)" style="fill: #3f5688"/><path d="M 564.881668 193.987931 L 590.315959 193.987931 L 590.315959 174.428907 L 564.881668 174.428907 L 564.881668 193.987931 " clip-path="url(#p8069fcb72d)" style="fill: #414483"/><path d="M 79.673652 174.428907 L 105.107943 174.428907 L 105.107943 155.847833 L 79.673652 155.847833 L 79.673652 174.428907 " clip-path="url(#p8069fcb72d)" style="fill: #4a988a"/><path d="M 105.107943 174.428907 L 130.542234 174.428907 L 130.542234 155.847833 L 105.107943 155.847833 L 105.107943 174.428907 " clip-path="url(#p8069fcb72d)" style="fill: #50a387"/><path d="M 130.542234 174.428907 L 155.976525 174.428907 L 155.976525 155.847833 L 130.542234 155.847833 L 130.542234 174.428907 " clip-path="url(#p8069fcb72d)" style="fill: #57ad83"/><path d="M 155.976525 174.428907 L 181.410817 174.428907 L 181.410817 155.847833 L 155.976525 155.847833 L 155.976525 174.428907 " clip-path="url(#p8069fcb72d)" style="fill: #5fb57e"/><path d="M 181.410817 174.428907 L 206.845108 174.428907 L 206.845108 155.847833 L 181.410817 155.847833 L 181.410817 174.428907 " clip-path="url(#p8069fcb72d)" style="fill: #66bb79"/><path d="M 206.845108 174.428907 L 233.257641 174.428907 L 233.257641 155.847833 L 206.845108 155.847833 L 206.845108 174.428907 " clip-path="url(#p8069fcb72d)" style="fill: #6fc074"/><path d="M 233.257641 174.428907 L 258.691932 174.428907 L 258.691932 155.847833 L 233.257641 155.847833 L 233.257641 174.428907 " clip-path="url(#p8069fcb72d)" style="fill: #77c56f"/><path d="M 258.691932 174.428907 L 284.126223 174.428907 L 284.126223 155.847833 L 258.691932 155.847833 L 258.691932 174.428907 " clip-path="url(#p8069fcb72d)" style="fill: #75c471"/><path d="M 284.126223 174.428907 L 309.560514 174.428907 L 309.560514 155.847833 L 284.126223 155.847833 L 284.126223 174.428907 " clip-path="url(#p8069fcb72d)" style="fill: #70c173"/><path d="M 309.560514 174.428907 L 334.994806 174.428907 L 334.994806 155.847833 L 309.560514 155.847833 L 309.560514 174.428907 " clip-path="url(#p8069fcb72d)" style="fill: #6abd77"/><path d="M 334.994806 174.428907 L 360.429097 174.428907 L 360.429097 155.847833 L 334.994806 155.847833 L 334.994806 174.428907 " clip-path="url(#p8069fcb72d)" style="fill: #63b87b"/><path d="M 360.429097 174.428907 L 385.863388 174.428907 L 385.863388 155.847833 L 360.429097 155.847833 L 360.429097 174.428907 " clip-path="url(#p8069fcb72d)" style="fill: #5bb180"/><path d="M 385.863388 174.428907 L 411.297679 174.428907 L 411.297679 155.847833 L 385.863388 155.847833 L 385.863388 174.428907 " clip-path="url(#p8069fcb72d)" style="fill: #53a885"/><path d="M 411.297679 174.428907 L 436.73197 174.428907 L 436.73197 155.847833 L 411.297679 155.847833 L 411.297679 174.428907 " clip-path="url(#p8069fcb72d)" style="fill: #4d9e89"/><path d="M 436.73197 174.428907 L 463.144503 174.428907 L 463.144503 155.847833 L 436.73197 155.847833 L 436.73197 174.428907 " clip-path="url(#p8069fcb72d)" style="fill: #47908b"/><path d="M 463.144503 174.428907 L 488.578794 174.428907 L 488.578794 155.847833 L 463.144503 155.847833 L 463.144503 174.428907 " clip-path="url(#p8069fcb72d)" style="fill: #42808c"/><path d="M 488.578794 174.428907 L 514.013086 174.428907 L 514.013086 155.847833 L 488.578794 155.847833 L 488.578794 174.428907 " clip-path="url(#p8069fcb72d)" style="fill: #406f8b"/><path d="M 514.013086 174.428907 L 539.447377 174.428907 L 539.447377 155.847833 L 514.013086 155.847833 L 514.013086 174.428907 " clip-path="url(#p8069fcb72d)" style="fill: #3f5f89"/><path d="M 539.447377 174.428907 L 564.881668 174.428907 L 564.881668 155.847833 L 539.447377 155.847833 L 539.447377 174.428907 " clip-path="url(#p8069fcb72d)" style="fill: #404d86"/><path d="M 564.881668 174.428907 L 590.315959 174.428907 L 590.315959 155.847833 L 564.881668 155.847833 L 564.881668 174.428907 " clip-path="url(#p8069fcb72d)" style="fill: #423c7f"/><path d="M 79.673652 155.847833 L 105.107943 155.847833 L 105.107943 136.288809 L 79.673652 136.288809 L 79.673652 155.847833 " clip-path="url(#p8069fcb72d)" style="fill: #45898c"/><path d="M 105.107943 155.847833 L 130.542234 155.847833 L 130.542234 136.288809 L 105.107943 136.288809 L 105.107943 155.847833 " clip-path="url(#p8069fcb72d)" style="fill: #48938b"/><path d="M 130.542234 155.847833 L 155.976525 155.847833 L 155.976525 136.288809 L 130.542234 136.288809 L 130.542234 155.847833 " clip-path="url(#p8069fcb72d)" style="fill: #4c9c89"/><path d="M 155.976525 155.847833 L 181.410817 155.847833 L 181.410817 136.288809 L 155.976525 136.288809 L 155.976525 155.847833 " clip-path="url(#p8069fcb72d)" style="fill: #50a487"/><path d="M 181.410817 155.847833 L 206.845108 155.847833 L 206.845108 136.288809 L 181.410817 136.288809 L 181.410817 155.847833 " clip-path="url(#p8069fcb72d)" style="fill: #55aa84"/><path d="M 206.845108 155.847833 L 233.257641 155.847833 L 233.257641 136.288809 L 206.845108 136.288809 L 206.845108 155.847833 " clip-path="url(#p8069fcb72d)" style="fill: #59af81"/><path d="M 233.257641 155.847833 L 258.691932 155.847833 L 258.691932 136.288809 L 233.257641 136.288809 L 233.257641 155.847833 " clip-path="url(#p8069fcb72d)" style="fill: #5fb57e"/><path d="M 258.691932 155.847833 L 284.126223 155.847833 L 284.126223 136.288809 L 258.691932 136.288809 L 258.691932 155.847833 " clip-path="url(#p8069fcb72d)" style="fill: #5db37f"/><path d="M 284.126223 155.847833 L 309.560514 155.847833 L 309.560514 136.288809 L 284.126223 136.288809 L 284.126223 155.847833 " clip-path="url(#p8069fcb72d)" style="fill: #5ab081"/><path d="M 309.560514 155.847833 L 334.994806 155.847833 L 334.994806 136.288809 L 309.560514 136.288809 L 309.560514 155.847833 " clip-path="url(#p8069fcb72d)" style="fill: #57ad83"/><path d="M 334.994806 155.847833 L 360.429097 155.847833 L 360.429097 136.288809 L 334.994806 136.288809 L 334.994806 155.847833 " clip-path="url(#p8069fcb72d)" style="fill: #53a785"/><path d="M 360.429097 155.847833 L 385.863388 155.847833 L 385.863388 136.288809 L 360.429097 136.288809 L 360.429097 155.847833 " clip-path="url(#p8069fcb72d)" style="fill: #4ea188"/><path d="M 385.863388 155.847833 L 411.297679 155.847833 L 411.297679 136.288809 L 385.863388 136.288809 L 385.863388 155.847833 " clip-path="url(#p8069fcb72d)" style="fill: #4a998a"/><path d="M 411.297679 155.847833 L 436.73197 155.847833 L 436.73197 136.288809 L 411.297679 136.288809 L 411.297679 155.847833 " clip-path="url(#p8069fcb72d)" style="fill: #478e8c"/><path d="M 436.73197 155.847833 L 463.144503 155.847833 L 463.144503 136.288809 L 436.73197 136.288809 L 436.73197 155.847833 " clip-path="url(#p8069fcb72d)" style="fill: #43828c"/><path d="M 463.144503 155.847833 L 488.578794 155.847833 L 488.578794 136.288809 L 463.144503 136.288809 L 463.144503 155.847833 " clip-path="url(#p8069fcb72d)" style="fill: #40738c"/><path d="M 488.578794 155.847833 L 514.013086 155.847833 L 514.013086 136.288809 L 488.578794 136.288809 L 488.578794 155.847833 " clip-path="url(#p8069fcb72d)" style="fill: #3f648a"/><path d="M 514.013086 155.847833 L 539.447377 155.847833 L 539.447377 136.288809 L 514.013086 136.288809 L 514.013086 155.847833 " clip-path="url(#p8069fcb72d)" style="fill: #3f5488"/><path d="M 539.447377 155.847833 L 564.881668 155.847833 L 564.881668 136.288809 L 539.447377 136.288809 L 539.447377 155.847833 " clip-path="url(#p8069fcb72d)" style="fill: #414483"/><path d="M 564.881668 155.847833 L 590.315959 155.847833 L 590.315959 136.288809 L 564.881668 136.288809 L 564.881668 155.847833 " clip-path="url(#p8069fcb72d)" style="fill: #43337a"/><path d="M 79.673652 136.288809 L 105.107943 136.288809 L 105.107943 117.707735 L 79.673652 117.707735 L 79.673652 136.288809 " clip-path="url(#p8069fcb72d)" style="fill: #417b8c"/><path d="M 105.107943 136.288809 L 130.542234 136.288809 L 130.542234 117.707735 L 105.107943 117.707735 L 105.107943 136.288809 " clip-path="url(#p8069fcb72d)" style="fill: #44848c"/><path d="M 130.542234 136.288809 L 155.976525 136.288809 L 155.976525 117.707735 L 130.542234 117.707735 L 130.542234 136.288809 " clip-path="url(#p8069fcb72d)" style="fill: #468d8c"/><path d="M 155.976525 136.288809 L 181.410817 136.288809 L 181.410817 117.707735 L 155.976525 117.707735 L 155.976525 136.288809 " clip-path="url(#p8069fcb72d)" style="fill: #48948b"/><path d="M 181.410817 136.288809 L 206.845108 136.288809 L 206.845108 117.707735 L 181.410817 117.707735 L 181.410817 136.288809 " clip-path="url(#p8069fcb72d)" style="fill: #4b9a8a"/><path d="M 206.845108 136.288809 L 233.257641 136.288809 L 233.257641 117.707735 L 206.845108 117.707735 L 206.845108 136.288809 " clip-path="url(#p8069fcb72d)" style="fill: #4d9e89"/><path d="M 233.257641 136.288809 L 258.691932 136.288809 L 258.691932 117.707735 L 233.257641 117.707735 L 233.257641 136.288809 " clip-path="url(#p8069fcb72d)" style="fill: #50a387"/><path d="M 258.691932 136.288809 L 284.126223 136.288809 L 284.126223 117.707735 L 258.691932 117.707735 L 258.691932 136.288809 " clip-path="url(#p8069fcb72d)" style="fill: #4fa287"/><path d="M 284.126223 136.288809 L 309.560514 136.288809 L 309.560514 117.707735 L 284.126223 117.707735 L 284.126223 136.288809 " clip-path="url(#p8069fcb72d)" style="fill: #4d9f88"/><path d="M 309.560514 136.288809 L 334.994806 136.288809 L 334.994806 117.707735 L 309.560514 117.707735 L 309.560514 136.288809 " clip-path="url(#p8069fcb72d)" style="fill: #4c9b89"/><path d="M 334.994806 136.288809 L 360.429097 136.288809 L 360.429097 117.707735 L 334.994806 117.707735 L 334.994806 136.288809 " clip-path="url(#p8069fcb72d)" style="fill: #4a978a"/><path d="M 360.429097 136.288809 L 385.863388 136.288809 L 385.863388 117.707735 L 360.429097 117.707735 L 360.429097 136.288809 " clip-path="url(#p8069fcb72d)" style="fill: #47908b"/><path d="M 385.863388 136.288809 L 411.297679 136.288809 L 411.297679 117.707735 L 385.863388 117.707735 L 385.863388 136.288809 " clip-path="url(#p8069fcb72d)" style="fill: #45898c"/><path d="M 411.297679 136.288809 L 436.73197 136.288809 L 436.73197 117.707735 L 411.297679 117.707735 L 411.297679 136.288809 " clip-path="url(#p8069fcb72d)" style="fill: #43818c"/><path d="M 436.73197 136.288809 L 463.144503 136.288809 L 463.144503 117.707735 L 436.73197 117.707735 L 436.73197 136.288809 " clip-path="url(#p8069fcb72d)" style="fill: #40758c"/><path d="M 463.144503 136.288809 L 488.578794 136.288809 L 488.578794 117.707735 L 463.144503 117.707735 L 463.144503 136.288809 " clip-path="url(#p8069fcb72d)" style="fill: #3f678a"/><path d="M 488.578794 136.288809 L 514.013086 136.288809 L 514.013086 117.707735 L 488.578794 117.707735 L 488.578794 136.288809 " clip-path="url(#p8069fcb72d)" style="fill: #3f5888"/><path d="M 514.013086 136.288809 L 539.447377 136.288809 L 539.447377 117.707735 L 514.013086 117.707735 L 514.013086 136.288809 " clip-path="url(#p8069fcb72d)" style="fill: #414985"/><path d="M 539.447377 136.288809 L 564.881668 136.288809 L 564.881668 117.707735 L 539.447377 117.707735 L 539.447377 136.288809 " clip-path="url(#p8069fcb72d)" style="fill: #42397e"/><path d="M 564.881668 136.288809 L 590.315959 136.288809 L 590.315959 117.707735 L 564.881668 117.707735 L 564.881668 136.288809 " clip-path="url(#p8069fcb72d)" style="fill: #432a74"/><path d="M 79.673652 117.707735 L 105.107943 117.707735 L 105.107943 98.148711 L 79.673652 98.148711 L 79.673652 117.707735 " clip-path="url(#p8069fcb72d)" style="fill: #3f6c8b"/><path d="M 105.107943 117.707735 L 130.542234 117.707735 L 130.542234 98.148711 L 105.107943 98.148711 L 105.107943 117.707735 " clip-path="url(#p8069fcb72d)" style="fill: #40758c"/><path d="M 130.542234 117.707735 L 155.976525 117.707735 L 155.976525 98.148711 L 130.542234 98.148711 L 130.542234 117.707735 " clip-path="url(#p8069fcb72d)" style="fill: #427c8c"/><path d="M 155.976525 117.707735 L 181.410817 117.707735 L 181.410817 98.148711 L 155.976525 98.148711 L 155.976525 117.707735 " clip-path="url(#p8069fcb72d)" style="fill: #43828c"/><path d="M 181.410817 117.707735 L 206.845108 117.707735 L 206.845108 98.148711 L 181.410817 98.148711 L 181.410817 117.707735 " clip-path="url(#p8069fcb72d)" style="fill: #44878c"/><path d="M 206.845108 117.707735 L 233.257641 117.707735 L 233.257641 98.148711 L 206.845108 98.148711 L 206.845108 117.707735 " clip-path="url(#p8069fcb72d)" style="fill: #468d8c"/><path d="M 233.257641 117.707735 L 258.691932 117.707735 L 258.691932 98.148711 L 233.257641 98.148711 L 233.257641 117.707735 " clip-path="url(#p8069fcb72d)" style="fill: #47908b"/><path d="M 258.691932 117.707735 L 284.126223 117.707735 L 284.126223 98.148711 L 258.691932 98.148711 L 258.691932 117.707735 " clip-path="url(#p8069fcb72d)" style="fill: #478e8c"/><path d="M 284.126223 117.707735 L 309.560514 117.707735 L 309.560514 98.148711 L 284.126223 98.148711 L 284.126223 117.707735 " clip-path="url(#p8069fcb72d)" style="fill: #468d8c"/><path d="M 309.560514 117.707735 L 334.994806 117.707735 L 334.994806 98.148711 L 309.560514 98.148711 L 309.560514 117.707735 " clip-path="url(#p8069fcb72d)" style="fill: #458a8c"/><path d="M 334.994806 117.707735 L 360.429097 117.707735 L 360.429097 98.148711 L 334.994806 98.148711 L 334.994806 117.707735 " clip-path="url(#p8069fcb72d)" style="fill: #44858c"/><path d="M 360.429097 117.707735 L 385.863388 117.707735 L 385.863388 98.148711 L 360.429097 98.148711 L 360.429097 117.707735 " clip-path="url(#p8069fcb72d)" style="fill: #42808c"/><path d="M 385.863388 117.707735 L 411.297679 117.707735 L 411.297679 98.148711 L 385.863388 98.148711 L 385.863388 117.707735 " clip-path="url(#p8069fcb72d)" style="fill: #41798c"/><path d="M 411.297679 117.707735 L 436.73197 117.707735 L 436.73197 98.148711 L 411.297679 98.148711 L 411.297679 117.707735 " clip-path="url(#p8069fcb72d)" style="fill: #40718b"/><path d="M 436.73197 117.707735 L 463.144503 117.707735 L 463.144503 98.148711 L 436.73197 98.148711 L 436.73197 117.707735 " clip-path="url(#p8069fcb72d)" style="fill: #3f678a"/><path d="M 463.144503 117.707735 L 488.578794 117.707735 L 488.578794 98.148711 L 463.144503 98.148711 L 463.144503 117.707735 " clip-path="url(#p8069fcb72d)" style="fill: #3f5a89"/><path d="M 488.578794 117.707735 L 514.013086 117.707735 L 514.013086 98.148711 L 488.578794 98.148711 L 488.578794 117.707735 " clip-path="url(#p8069fcb72d)" style="fill: #404b85"/><path d="M 514.013086 117.707735 L 539.447377 117.707735 L 539.447377 98.148711 L 514.013086 98.148711 L 514.013086 117.707735 " clip-path="url(#p8069fcb72d)" style="fill: #423e80"/><path d="M 539.447377 117.707735 L 564.881668 117.707735 L 564.881668 98.148711 L 539.447377 98.148711 L 539.447377 117.707735 " clip-path="url(#p8069fcb72d)" style="fill: #432f78"/><path d="M 564.881668 117.707735 L 590.315959 117.707735 L 590.315959 98.148711 L 564.881668 98.148711 L 564.881668 117.707735 " clip-path="url(#p8069fcb72d)" style="fill: #43216c"/><path d="M 79.673652 98.148711 L 105.107943 98.148711 L 105.107943 79.567637 L 79.673652 79.567637 L 79.673652 98.148711 " clip-path="url(#p8069fcb72d)" style="fill: #3f5f89"/><path d="M 105.107943 98.148711 L 130.542234 98.148711 L 130.542234 79.567637 L 105.107943 79.567637 L 105.107943 98.148711 " clip-path="url(#p8069fcb72d)" style="fill: #3f678a"/><path d="M 130.542234 98.148711 L 155.976525 98.148711 L 155.976525 79.567637 L 130.542234 79.567637 L 130.542234 98.148711 " clip-path="url(#p8069fcb72d)" style="fill: #3f6e8b"/><path d="M 155.976525 98.148711 L 181.410817 98.148711 L 181.410817 79.567637 L 155.976525 79.567637 L 155.976525 98.148711 " clip-path="url(#p8069fcb72d)" style="fill: #40748c"/><path d="M 181.410817 98.148711 L 206.845108 98.148711 L 206.845108 79.567637 L 181.410817 79.567637 L 181.410817 98.148711 " clip-path="url(#p8069fcb72d)" style="fill: #41778c"/><path d="M 206.845108 98.148711 L 233.257641 98.148711 L 233.257641 79.567637 L 206.845108 79.567637 L 206.845108 98.148711 " clip-path="url(#p8069fcb72d)" style="fill: #427c8c"/><path d="M 233.257641 98.148711 L 258.691932 98.148711 L 258.691932 79.567637 L 233.257641 79.567637 L 233.257641 98.148711 " clip-path="url(#p8069fcb72d)" style="fill: #42808c"/><path d="M 258.691932 98.148711 L 284.126223 98.148711 L 284.126223 79.567637 L 258.691932 79.567637 L 258.691932 98.148711 " clip-path="url(#p8069fcb72d)" style="fill: #427f8c"/><path d="M 284.126223 98.148711 L 309.560514 98.148711 L 309.560514 79.567637 L 284.126223 79.567637 L 284.126223 98.148711 " clip-path="url(#p8069fcb72d)" style="fill: #427d8c"/><path d="M 309.560514 98.148711 L 334.994806 98.148711 L 334.994806 79.567637 L 309.560514 79.567637 L 309.560514 98.148711 " clip-path="url(#p8069fcb72d)" style="fill: #41798c"/><path d="M 334.994806 98.148711 L 360.429097 98.148711 L 360.429097 79.567637 L 334.994806 79.567637 L 334.994806 98.148711 " clip-path="url(#p8069fcb72d)" style="fill: #40768c"/><path d="M 360.429097 98.148711 L 385.863388 98.148711 L 385.863388 79.567637 L 360.429097 79.567637 L 360.429097 98.148711 " clip-path="url(#p8069fcb72d)" style="fill: #40718b"/><path d="M 385.863388 98.148711 L 411.297679 98.148711 L 411.297679 79.567637 L 385.863388 79.567637 L 385.863388 98.148711 " clip-path="url(#p8069fcb72d)" style="fill: #3f6a8b"/><path d="M 411.297679 98.148711 L 436.73197 98.148711 L 436.73197 79.567637 L 411.297679 79.567637 L 411.297679 98.148711 " clip-path="url(#p8069fcb72d)" style="fill: #3f648a"/><path d="M 436.73197 98.148711 L 463.144503 98.148711 L 463.144503 79.567637 L 436.73197 79.567637 L 436.73197 98.148711 " clip-path="url(#p8069fcb72d)" style="fill: #3f5a89"/><path d="M 463.144503 98.148711 L 488.578794 98.148711 L 488.578794 79.567637 L 463.144503 79.567637 L 463.144503 98.148711 " clip-path="url(#p8069fcb72d)" style="fill: #404d86"/><path d="M 488.578794 98.148711 L 514.013086 98.148711 L 514.013086 79.567637 L 488.578794 79.567637 L 488.578794 98.148711 " clip-path="url(#p8069fcb72d)" style="fill: #424081"/><path d="M 514.013086 98.148711 L 539.447377 98.148711 L 539.447377 79.567637 L 514.013086 79.567637 L 514.013086 98.148711 " clip-path="url(#p8069fcb72d)" style="fill: #43337a"/><path d="M 539.447377 98.148711 L 564.881668 98.148711 L 564.881668 79.567637 L 539.447377 79.567637 L 539.447377 98.148711 " clip-path="url(#p8069fcb72d)" style="fill: #432670"/><path d="M 564.881668 98.148711 L 590.315959 98.148711 L 590.315959 79.567637 L 564.881668 79.567637 L 564.881668 98.148711 " clip-path="url(#p8069fcb72d)" style="fill: #421964"/><path d="M 79.673652 79.567637 L 105.107943 79.567637 L 105.107943 60.008613 L 79.673652 60.008613 L 79.673652 79.567637 " clip-path="url(#p8069fcb72d)" style="fill: #404e86"/><path d="M 105.107943 79.567637 L 130.542234 79.567637 L 130.542234 60.008613 L 105.107943 60.008613 L 105.107943 79.567637 " clip-path="url(#p8069fcb72d)" style="fill: #3f5688"/><path d="M 130.542234 79.567637 L 155.976525 79.567637 L 155.976525 60.008613 L 130.542234 60.008613 L 130.542234 79.567637 " clip-path="url(#p8069fcb72d)" style="fill: #3f5d89"/><path d="M 155.976525 79.567637 L 181.410817 79.567637 L 181.410817 60.008613 L 155.976525 60.008613 L 155.976525 79.567637 " clip-path="url(#p8069fcb72d)" style="fill: #3f628a"/><path d="M 181.410817 79.567637 L 206.845108 79.567637 L 206.845108 60.008613 L 181.410817 60.008613 L 181.410817 79.567637 " clip-path="url(#p8069fcb72d)" style="fill: #3f668a"/><path d="M 206.845108 79.567637 L 233.257641 79.567637 L 233.257641 60.008613 L 206.845108 60.008613 L 206.845108 79.567637 " clip-path="url(#p8069fcb72d)" style="fill: #3f698b"/><path d="M 233.257641 79.567637 L 258.691932 79.567637 L 258.691932 60.008613 L 233.257641 60.008613 L 233.257641 79.567637 " clip-path="url(#p8069fcb72d)" style="fill: #3f6d8b"/><path d="M 258.691932 79.567637 L 284.126223 79.567637 L 284.126223 60.008613 L 258.691932 60.008613 L 258.691932 79.567637 " clip-path="url(#p8069fcb72d)" style="fill: #3f6b8b"/><path d="M 284.126223 79.567637 L 309.560514 79.567637 L 309.560514 60.008613 L 284.126223 60.008613 L 284.126223 79.567637 " clip-path="url(#p8069fcb72d)" style="fill: #3f6a8b"/><path d="M 309.560514 79.567637 L 334.994806 79.567637 L 334.994806 60.008613 L 309.560514 60.008613 L 309.560514 79.567637 " clip-path="url(#p8069fcb72d)" style="fill: #3f678b"/><path d="M 334.994806 79.567637 L 360.429097 79.567637 L 360.429097 60.008613 L 334.994806 60.008613 L 334.994806 79.567637 " clip-path="url(#p8069fcb72d)" style="fill: #3f648a"/><path d="M 360.429097 79.567637 L 385.863388 79.567637 L 385.863388 60.008613 L 360.429097 60.008613 L 360.429097 79.567637 " clip-path="url(#p8069fcb72d)" style="fill: #3f608a"/><path d="M 385.863388 79.567637 L 411.297679 79.567637 L 411.297679 60.008613 L 385.863388 60.008613 L 385.863388 79.567637 " clip-path="url(#p8069fcb72d)" style="fill: #3f5a89"/><path d="M 411.297679 79.567637 L 436.73197 79.567637 L 436.73197 60.008613 L 411.297679 60.008613 L 411.297679 79.567637 " clip-path="url(#p8069fcb72d)" style="fill: #3f5387"/><path d="M 436.73197 79.567637 L 463.144503 79.567637 L 463.144503 60.008613 L 436.73197 60.008613 L 436.73197 79.567637 " clip-path="url(#p8069fcb72d)" style="fill: #404a85"/><path d="M 463.144503 79.567637 L 488.578794 79.567637 L 488.578794 60.008613 L 463.144503 60.008613 L 463.144503 79.567637 " clip-path="url(#p8069fcb72d)" style="fill: #423e80"/><path d="M 488.578794 79.567637 L 514.013086 79.567637 L 514.013086 60.008613 L 488.578794 60.008613 L 488.578794 79.567637 " clip-path="url(#p8069fcb72d)" style="fill: #43337a"/><path d="M 514.013086 79.567637 L 539.447377 79.567637 L 539.447377 60.008613 L 514.013086 60.008613 L 514.013086 79.567637 " clip-path="url(#p8069fcb72d)" style="fill: #432771"/><path d="M 539.447377 79.567637 L 564.881668 79.567637 L 564.881668 60.008613 L 539.447377 60.008613 L 539.447377 79.567637 " clip-path="url(#p8069fcb72d)" style="fill: #421b66"/><path d="M 564.881668 79.567637 L 590.315959 79.567637 L 590.315959 60.008613 L 564.881668 60.008613 L 564.881668 79.567637 " clip-path="url(#p8069fcb72d)" style="fill: #400f59"/><path d="M 79.673652 60.008613 L 105.107943 60.008613 L 105.107943 41.427539 L 79.673652 41.427539 L 79.673652 60.008613 " clip-path="url(#p8069fcb72d)" style="fill: #423f81"/><path d="M 105.107943 60.008613 L 130.542234 60.008613 L 130.542234 41.427539 L 105.107943 41.427539 L 105.107943 60.008613 " clip-path="url(#p8069fcb72d)" style="fill: #414684"/><path d="M 130.542234 60.008613 L 155.976525 60.008613 L 155.976525 41.427539 L 130.542234 41.427539 L 130.542234 60.008613 " clip-path="url(#p8069fcb72d)" style="fill: #404c86"/><path d="M 155.976525 60.008613 L 181.410817 60.008613 L 181.410817 41.427539 L 155.976525 41.427539 L 155.976525 60.008613 " clip-path="url(#p8069fcb72d)" style="fill: #405087"/><path d="M 181.410817 60.008613 L 206.845108 60.008613 L 206.845108 41.427539 L 181.410817 41.427539 L 181.410817 60.008613 " clip-path="url(#p8069fcb72d)" style="fill: #3f5588"/><path d="M 206.845108 60.008613 L 233.257641 60.008613 L 233.257641 41.427539 L 206.845108 41.427539 L 206.845108 60.008613 " clip-path="url(#p8069fcb72d)" style="fill: #3f5989"/><path d="M 233.257641 60.008613 L 258.691932 60.008613 L 258.691932 41.427539 L 233.257641 41.427539 L 233.257641 60.008613 " clip-path="url(#p8069fcb72d)" style="fill: #3f5c89"/><path d="M 258.691932 60.008613 L 284.126223 60.008613 L 284.126223 41.427539 L 258.691932 41.427539 L 258.691932 60.008613 " clip-path="url(#p8069fcb72d)" style="fill: #3f5b89"/><path d="M 284.126223 60.008613 L 309.560514 60.008613 L 309.560514 41.427539 L 284.126223 41.427539 L 284.126223 60.008613 " clip-path="url(#p8069fcb72d)" style="fill: #3f5989"/><path d="M 309.560514 60.008613 L 334.994806 60.008613 L 334.994806 41.427539 L 309.560514 41.427539 L 309.560514 60.008613 " clip-path="url(#p8069fcb72d)" style="fill: #3f5788"/><path d="M 334.994806 60.008613 L 360.429097 60.008613 L 360.429097 41.427539 L 334.994806 41.427539 L 334.994806 60.008613 " clip-path="url(#p8069fcb72d)" style="fill: #3f5488"/><path d="M 360.429097 60.008613 L 385.863388 60.008613 L 385.863388 41.427539 L 360.429097 41.427539 L 360.429097 60.008613 " clip-path="url(#p8069fcb72d)" style="fill: #404e86"/><path d="M 385.863388 60.008613 L 411.297679 60.008613 L 411.297679 41.427539 L 385.863388 41.427539 L 385.863388 60.008613 " clip-path="url(#p8069fcb72d)" style="fill: #414985"/><path d="M 411.297679 60.008613 L 436.73197 60.008613 L 436.73197 41.427539 L 411.297679 41.427539 L 411.297679 60.008613 " clip-path="url(#p8069fcb72d)" style="fill: #414483"/><path d="M 436.73197 60.008613 L 463.144503 60.008613 L 463.144503 41.427539 L 436.73197 41.427539 L 436.73197 60.008613 " clip-path="url(#p8069fcb72d)" style="fill: #423b7f"/><path d="M 463.144503 60.008613 L 488.578794 60.008613 L 488.578794 41.427539 L 463.144503 41.427539 L 463.144503 60.008613 " clip-path="url(#p8069fcb72d)" style="fill: #433079"/><path d="M 488.578794 60.008613 L 514.013086 60.008613 L 514.013086 41.427539 L 488.578794 41.427539 L 488.578794 60.008613 " clip-path="url(#p8069fcb72d)" style="fill: #432670"/><path d="M 514.013086 60.008613 L 539.447377 60.008613 L 539.447377 41.427539 L 514.013086 41.427539 L 514.013086 60.008613 " clip-path="url(#p8069fcb72d)" style="fill: #421b66"/><path d="M 539.447377 60.008613 L 564.881668 60.008613 L 564.881668 41.427539 L 539.447377 41.427539 L 539.447377 60.008613 " clip-path="url(#p8069fcb72d)" style="fill: #40125c"/><path d="M 564.881668 60.008613 L 590.315959 60.008613 L 590.315959 41.427539 L 564.881668 41.427539 L 564.881668 60.008613 " clip-path="url(#p8069fcb72d)" style="fill: #3e0851"/></g><g id="matplotlib.axis_1"><g id="xtick_1"><g id="line2d_1"><defs><path id="m3898ac4c5f" d="M 0 0 L 0 4.755343 " style="stroke: #000000; stroke-width: 1.086935"/></defs><g><use href="#m3898ac4c5f" x="92.88" y="412.56" style="stroke: #000000; stroke-width: 1.086935"/></g></g><g id="L_xt0" transform="matrix(0.9920 0 0 0.9640 -0.553 15.592)"><text x="92.88" y="432.39445" font-size="13.5867" text-anchor="middle">−0.50</text></g></g><g id="xtick_2"><g id="line2d_2"><g><use href="#m3898ac4c5f" x="153.531" y="412.56" style="stroke: #000000; stroke-width: 1.086935"/></g></g><g id="L_xt1" transform="matrix(0.9920 0 0 0.9640 -0.066 15.621)"><text x="153.531" y="432.39445" font-size="13.5867" text-anchor="middle">−0.25</text></g></g><g id="xtick_3"><g id="line2d_3"><g><use href="#m3898ac4c5f" x="214.182" y="412.56" style="stroke: #000000; stroke-width: 1.086935"/></g></g><g id="L_xt2" transform="matrix(0.9480 0 0 0.9600 11.268 17.381)"><text x="214.182" y="432.39445" font-size="13.5867" text-anchor="middle">0.00</text></g></g><g id="xtick_4"><g id="line2d_4"><g><use href="#m3898ac4c5f" x="274.833" y="412.56" style="stroke: #000000; stroke-width: 1.086935"/></g></g><g id="L_xt3" transform="matrix(0.9480 0 0 0.9640 14.499 15.636)"><text x="274.833" y="432.39445" font-size="13.5867" text-anchor="middle">0.25</text></g></g><g id="xtick_5"><g id="line2d_5"><g><use href="#m3898ac4c5f" x="335.484" y="412.56" style="stroke: #000000; stroke-width: 1.086935"/></g></g><g id="L_xt4" transform="matrix(0.9480 0 0 0.9640 17.630 15.607)"><text x="335.484" y="432.39445" font-size="13.5867" text-anchor="middle">0.50</text></g></g><g id="xtick_6"><g id="line2d_6"><g><use href="#m3898ac4c5f" x="396.135" y="412.56" style="stroke: #000000; stroke-width: 1.086935"/></g></g><g id="L_xt5" transform="matrix(0.9520 0 0 0.9640 19.241 15.592)"><text x="396.135" y="432.39445" font-size="13.5867" text-anchor="middle">0.75</text></g></g><g id="xtick_7"><g id="line2d_7"><g><use href="#m3898ac4c5f" x="456.786" y="412.56" style="stroke: #000000; stroke-width: 1.086935"/></g></g><g id="L_xt6" transform="matrix(0.9440 0 0 0.9680 24.849 13.948)"><text x="456.786" y="432.39445" font-size="13.5867" text-anchor="middle">1.00</text></g></g><g id="xtick_8"><g id="line2d_8"><g><use href="#m3898ac4c5f" x="517.437" y="412.56" style="stroke: #000000; stroke-width: 1.086935"/></g></g><g id="L_xt7" transform="matrix(0.9440 0 0 0.9680 28.322 13.919)"><text x="517.437" y="432.39445" font-size="13.5867" text-anchor="middle">1.25</text></g></g><g id="xtick_9"><g id="line2d_9"><g><use href="#m3898ac4c5f" x="578.088" y="412.56" style="stroke: #000000; stroke-width: 1.086935"/></g></g><g id="L_xt8" transform="matrix(0.9440 0 0 0.9680 31.709 13.890)"><text x="578.088" y="432.39445" font-size="13.5867" text-anchor="middle">1.50</text></g></g><g id="L_xlabel" transform="matrix(1.0080 0 0 1.0520 -3.044 -23.201)"><text x="335.484" y="450.978499" font-size="13.5867" text-anchor="middle">x</text></g></g><g id="matplotlib.axis_2"><g id="ytick_1"><g id="line2d_10"><defs><path id="m52d64fa018" d="M 0 0 L -4.755343 0 " style="stroke: #000000; stroke-width: 1.086935"/></defs><g><use href="#m52d64fa018" x="92.88" y="412.56" style="stroke: #000000; stroke-width: 1.086935"/></g></g><g id="L_yt0" transform="matrix(0.9920 0 0 0.9800 -0.783 8.482)"><text x="83.37" y="417.721882" font-size="13.5867" text-anchor="end">−0.50</text></g></g><g id="ytick_2"><g id="line2d_11"><g><use href="#m52d64fa018" x="92.88" y="367.452" style="stroke: #000000; stroke-width: 1.086935"/></g></g><g id="L_yt1" transform="matrix(0.9920 0 0 0.9760 -0.783 8.214)"><text x="83.37" y="372.613882" font-size="13.5867" text-anchor="end">−0.25</text></g></g><g id="ytick_3"><g id="line2d_12"><g><use href="#m52d64fa018" x="92.88" y="322.344" style="stroke: #000000; stroke-width: 1.086935"/></g></g><g id="L_yt2" transform="matrix(0.9520 0 0 0.9640 3.583 11.189)"><text x="83.37" y="327.505882" font-size="13.5867" text-anchor="end">0.00</text></g></g><g id="ytick_4"><g id="line2d_13"><g><use href="#m52d64fa018" x="92.88" y="277.236" style="stroke: #000000; stroke-width: 1.086935"/></g></g><g id="L_yt3" transform="matrix(0.9520 0 0 0.9680 3.712 8.542)"><text x="83.37" y="282.397882" font-size="13.5867" text-anchor="end">0.25</text></g></g><g id="ytick_5"><g id="line2d_14"><g><use href="#m52d64fa018" x="92.88" y="232.128" style="stroke: #000000; stroke-width: 1.086935"/></g></g><g id="L_yt4" transform="matrix(0.9480 0 0 0.9720 3.912 6.273)"><text x="83.37" y="237.289882" font-size="13.5867" text-anchor="end">0.50</text></g></g><g id="ytick_6"><g id="line2d_15"><g><use href="#m52d64fa018" x="92.88" y="187.02" style="stroke: #000000; stroke-width: 1.086935"/></g></g><g id="L_yt5" transform="matrix(0.9520 0 0 0.9680 3.727 5.835)"><text x="83.37" y="192.181882" font-size="13.5867" text-anchor="end">0.75</text></g></g><g id="ytick_7"><g id="line2d_16"><g><use href="#m52d64fa018" x="92.88" y="141.912" style="stroke: #000000; stroke-width: 1.086935"/></g></g><g id="L_yt6" transform="matrix(0.9480 0 0 0.9880 3.020 1.748)"><text x="83.37" y="147.073882" font-size="13.5867" text-anchor="end">1.00</text></g></g><g id="ytick_8"><g id="line2d_17"><g><use href="#m52d64fa018" x="92.88" y="96.804" style="stroke: #000000; stroke-width: 1.086935"/></g></g><g id="L_yt7" transform="matrix(0.9480 0 0 0.9880 3.092 0.369)"><text x="83.37" y="101.965882" font-size="13.5867" text-anchor="end">1.25</text></g></g><g id="ytick_9"><g id="line2d_18"><g><use href="#m52d64fa018" x="92.88" y="51.696" style="stroke: #000000; stroke-width: 1.086935"/></g></g><g id="L_yt8" transform="matrix(0.9480 0 0 0.9840 3.063 0.075)"><text x="83.37" y="56.857882" font-size="13.5867" text-anchor="end">1.50</text></g></g><g id="L_ylabel" transform="matrix(1.0480 0 0 1.0000 -2.425 0.792)"><text transform="translate(33.472182 232.128) rotate(-90)" font-size="13.5867" text-anchor="middle">y</text></g></g><g id="line2d_19"><path d="M 398.808 93.24 L 424.368 92.232 L 449.856 98.424 L 475.416 111.096 L 493.776 126.504 L 500.976 134.28 L 510.048 145.512 L 522.072 164.52 L 522.072 183.6 L 511.2 202.608 L 500.976 222.12 L 475.416 240.912 L 449.856 254.016 L 424.368 258.336 L 398.808 259.776 L 373.248 257.328 L 347.76 243.864 L 322.2 230.04 L 312.624 221.616 L 300.744 202.608 L 297.432 183.6 L 297.864 164.52 L 300.744 145.512 L 317.736 126.504 L 322.2 123.768 L 347.76 109.656 L 351.792 107.496 L 373.248 98.784 L 398.808 93.24 " clip-path="url(#p8069fcb72d)" style="fill: none; stroke: #f8dcce; stroke-width: 2.038004; stroke-linejoin: miter"/></g><g id="line2d_20"><path d="M 398.808 111.816 L 424.368 111.384 L 449.856 116.424 L 467.424 126.504 L 475.416 136.44 L 482.904 145.512 L 495.216 164.52 L 495.504 183.6 L 487.296 202.608 L 475.416 221.616 L 449.856 235.872 L 424.368 241.704 L 398.808 243.864 L 373.248 235.872 L 347.76 222.84 L 346.032 221.616 L 325.44 202.608 L 320.184 183.6 L 322.2 170.496 L 323.28 164.52 L 327.888 145.512 L 347.76 127.008 L 373.248 116.856 L 398.808 111.816 " clip-path="url(#p8069fcb72d)" style="fill: none; stroke: #f1b298; stroke-width: 2.038004; stroke-linejoin: miter"/></g><g id="line2d_21"><path d="M 398.808 123.12 L 424.368 123.408 L 449.856 129.168 L 463.608 145.512 L 475.416 161.064 L 478.152 164.52 L 480.024 183.6 L 468.432 202.608 L 449.856 221.616 L 424.368 230.04 L 398.808 232.272 L 373.248 221.688 L 347.76 206.856 L 342.36 202.608 L 337.752 183.6 L 340.92 164.52 L 347.76 145.512 L 373.248 129.888 L 398.808 123.12 " clip-path="url(#p8069fcb72d)" style="fill: none; stroke: #ec8869; stroke-width: 2.038004; stroke-linejoin: miter"/></g><g id="line2d_22"><path d="M 398.808 133.56 L 424.368 135.288 L 449.856 145.512 L 462.6 164.52 L 464.328 183.6 L 449.856 203.256 L 424.368 218.448 L 398.808 221.4 L 373.248 210.528 L 360.072 202.608 L 351.792 183.6 L 354.384 164.52 L 370.656 145.512 L 373.248 143.712 L 398.808 133.56 " clip-path="url(#p8069fcb72d)" style="fill: none; stroke: #e25b44; stroke-width: 2.038004; stroke-linejoin: miter"/></g><g id="line2d_23"><path d="M 398.808 143.712 L 424.368 147.6 L 448.848 164.52 L 449.136 183.6 L 427.824 202.608 L 424.368 205.416 L 398.808 209.016 L 382.248 202.608 L 373.248 194.544 L 366.264 183.6 L 367.416 164.52 L 373.248 158.184 L 398.808 143.712 " clip-path="url(#p8069fcb72d)" style="fill: none; stroke: #c4372d; stroke-width: 2.038004; stroke-linejoin: miter"/></g><g id="line2d_24"><path d="M 398.808 154.584 L 424.368 161.064 L 430.272 164.52 L 431.424 183.6 L 424.368 190.224 L 398.808 195.984 L 383.688 183.6 L 382.968 164.52 L 398.808 154.584 " clip-path="url(#p8069fcb72d)" style="fill: none; stroke: #9c2520; stroke-width: 2.038004; stroke-linejoin: miter"/></g><g id="line2d_25"><path d="M 92.88 231.1488 L 578.088 231.1488 " clip-path="url(#p8069fcb72d)" style="fill: none; stroke: #000000; stroke-width: 2.038004; stroke-linecap: square"/></g><g id="line2d_26"><path d="M 334.9944 412.56 L 334.9944 51.696 " clip-path="url(#p8069fcb72d)" style="fill: none; stroke: #000000; stroke-width: 2.038004; stroke-linecap: square"/></g><g id="patch_3"><path d="M 92.88 412.56 L 92.88 51.696 " style="fill: none; stroke: #000000; stroke-width: 1.086935; stroke-linejoin: miter; stroke-linecap: square"/></g><g id="patch_4"><path d="M 578.088 412.56 L 578.088 51.696 " style="fill: none; stroke: #000000; stroke-width: 1.086935; stroke-linejoin: miter; stroke-linecap: square"/></g><g id="patch_5"><path d="M 92.88 412.56 L 578.088 412.56 " style="fill: none; stroke: #000000; stroke-width: 1.086935; stroke-linejoin: miter; stroke-linecap: square"/></g><g id="patch_6"><path d="M 92.88 51.696 L 578.088 51.696 " style="fill: none; stroke: #000000; stroke-width: 1.086935; stroke-linejoin: miter; stroke-linecap: square"/></g><g id="L_txt0" transform="matrix(0.9960 0 0 1.0400 1.214 -4.464)"><text x="153.531" y="96.804" font-size="27.1734">B</text></g><g id="L_txt1" transform="matrix(1.0040 0 0 1.0320 -2.625 -3.963)"><text x="517.437" y="96.804" font-size="27.1734">A</text></g><g id="L_txt2" transform="matrix(0.9840 0 0 1.0400 3.217 -14.990)"><text x="153.531" y="367.452" font-size="27.1734">D</text></g><g id="L_txt3" transform="matrix(0.9840 0 0 1.0000 8.778 -0.749)"><text x="517.437" y="367.452" font-size="27.1734">C</text></g><g id="L_title" transform="matrix(0.9960 0 0 1.0560 0.593 -3.761)"><text x="335.484" y="43.543984" font-size="16.304" text-anchor="middle">Signal (5000) vs Background distributions</text></g></g><g id="axes_2"><g id="patch_7"><path d="M 746.64 412.632 L 1219.248 412.632 L 1219.248 61.2 L 746.64 61.2 z " style="fill: #ffffff"/></g><g id="matplotlib.axis_3"><g id="xtick_10"><g id="line2d_27"><defs><path id="md3a35342ec" d="M 0 0 L 0 4.631855 " style="stroke: #000000; stroke-width: 1.05871"/></defs><g><use href="#md3a35342ec" x="761.832" y="412.632" style="stroke: #000000; stroke-width: 1.05871"/></g></g><g id="R_xt1" transform="matrix(0.9880 0 0 0.9600 9.962 17.366)"><text x="761.832" y="431.951384" font-size="13.2339" text-anchor="middle">0</text></g></g><g id="xtick_11"><g id="line2d_28"><g><use href="#md3a35342ec" x="824.009143" y="412.632" style="stroke: #000000; stroke-width: 1.05871"/></g></g><g id="R_xt2" transform="matrix(0.9920 0 0 0.9600 6.388 17.395)"><text x="824.009143" y="431.951384" font-size="13.2339" text-anchor="middle">2000</text></g></g><g id="xtick_12"><g id="line2d_29"><g><use href="#md3a35342ec" x="886.186286" y="412.632" style="stroke: #000000; stroke-width: 1.05871"/></g></g><g id="R_xt3" transform="matrix(0.9560 0 0 0.9600 38.825 17.338)"><text x="886.186286" y="431.951384" font-size="13.2339" text-anchor="middle">4000</text></g></g><g id="xtick_13"><g id="line2d_30"><g><use href="#md3a35342ec" x="948.363429" y="412.632" style="stroke: #000000; stroke-width: 1.05871"/></g></g><g id="R_xt4" transform="matrix(0.9960 0 0 0.9600 3.203 17.352)"><text x="948.363429" y="431.951384" font-size="13.2339" text-anchor="middle">6000</text></g></g><g id="xtick_14"><g id="line2d_31"><g><use href="#md3a35342ec" x="1010.540571" y="412.632" style="stroke: #000000; stroke-width: 1.05871"/></g></g><g id="R_xt5" transform="matrix(0.9920 0 0 0.9600 8.214 17.352)"><text x="1010.540571" y="431.951384" font-size="13.2339" text-anchor="middle">8000</text></g></g><g id="xtick_15"><g id="line2d_32"><g><use href="#md3a35342ec" x="1072.717714" y="412.632" style="stroke: #000000; stroke-width: 1.05871"/></g></g><g id="R_xt6" transform="matrix(0.9720 0 0 0.9640 29.477 15.654)"><text x="1072.717714" y="431.951384" font-size="13.2339" text-anchor="middle">10000</text></g></g><g id="xtick_16"><g id="line2d_33"><g><use href="#md3a35342ec" x="1134.894857" y="412.632" style="stroke: #000000; stroke-width: 1.05871"/></g></g><g id="R_xt7" transform="matrix(0.9640 0 0 0.9640 41.181 15.669)"><text x="1134.894857" y="431.951384" font-size="13.2339" text-anchor="middle">12000</text></g></g><g id="xtick_17"><g id="line2d_34"><g><use href="#md3a35342ec" x="1197.072" y="412.632" style="stroke: #000000; stroke-width: 1.05871"/></g></g><g id="R_xt8" transform="matrix(0.9680 0 0 0.9680 38.650 13.928)"><text x="1197.072" y="431.951384" font-size="13.2339" text-anchor="middle">14000</text></g></g><g id="R_xlabel" transform="matrix(0.9920 0 0 1.0440 8.067 -19.585)"><text x="982.944" y="450.052838" font-size="13.2339" text-anchor="middle">z</text></g></g><g id="matplotlib.axis_4"><g id="ytick_10"><g id="line2d_35"><defs><path id="mfad66d3446" d="M 0 0 L -4.631855 0 " style="stroke: #000000; stroke-width: 1.05871"/></defs><g><use href="#mfad66d3446" x="746.64" y="358.4952" style="stroke: #000000; stroke-width: 1.05871"/></g></g><g id="R_yt2" transform="matrix(0.9440 0 0 0.9800 39.571 8.359)"><text x="736.9" y="363.42" font-size="13.2339" text-anchor="end">10<tspan dy="-5.07" font-size="9.2637">−6</tspan></text></g></g><g id="ytick_11"><g id="line2d_36"><g><use href="#mfad66d3446" x="746.64" y="262.6128" style="stroke: #000000; stroke-width: 1.05871"/></g></g><g id="R_yt3" transform="matrix(0.9440 0 0 1.0000 39.557 0.734)"><text x="736.9" y="267.55" font-size="13.2339" text-anchor="end">10<tspan dy="-5.07" font-size="9.2637">−5</tspan></text></g></g><g id="ytick_12"><g id="line2d_37"><g><use href="#mfad66d3446" x="746.64" y="166.7304" style="stroke: #000000; stroke-width: 1.05871"/></g></g><g id="R_yt4" transform="matrix(0.9480 0 0 0.9760 36.698 4.496)"><text x="736.9" y="171.67" font-size="13.2339" text-anchor="end">10<tspan dy="-5.07" font-size="9.2637">−4</tspan></text></g></g><g id="ytick_13"><g id="line2d_38"><g><use href="#mfad66d3446" x="746.64" y="70.848" style="stroke: #000000; stroke-width: 1.05871"/></g></g><g id="R_yt5" transform="matrix(0.9480 0 0 0.9960 36.698 1.427)"><text x="736.9" y="75.77" font-size="13.2339" text-anchor="end">10<tspan dy="-5.07" font-size="9.2637">−3</tspan></text></g></g><g id="ytick_14"><g id="line2d_39"><defs><path id="m61d184bd3f" d="M 0 0 L -2.646774 0 " style="stroke: #000000; stroke-width: 0.794032"/></defs><g><use href="#m61d184bd3f" x="746.64" y="408.630069" style="stroke: #000000; stroke-width: 0.794032"/></g></g></g><g id="ytick_15"><g id="line2d_40"><g><use href="#m61d184bd3f" x="746.64" y="396.650643" style="stroke: #000000; stroke-width: 0.794032"/></g></g></g><g id="ytick_16"><g id="line2d_41"><g><use href="#m61d184bd3f" x="746.64" y="387.358678" style="stroke: #000000; stroke-width: 0.794032"/></g></g></g><g id="ytick_17"><g id="line2d_42"><g><use href="#m61d184bd3f" x="746.64" y="379.766591" style="stroke: #000000; stroke-width: 0.794032"/></g></g></g><g id="ytick_18"><g id="line2d_43"><g><use href="#m61d184bd3f" x="746.64" y="373.347572" style="stroke: #000000; stroke-width: 0.794032"/></g></g></g><g id="ytick_19"><g id="line2d_44"><g><use href="#m61d184bd3f" x="746.64" y="367.787165" style="stroke: #000000; stroke-width: 0.794032"/></g></g></g><g id="ytick_20"><g id="line2d_45"><g><use href="#m61d184bd3f" x="746.64" y="362.882538" style="stroke: #000000; stroke-width: 0.794032"/></g></g></g><g id="ytick_21"><g id="line2d_46"><g><use href="#m61d184bd3f" x="746.64" y="329.631722" style="stroke: #000000; stroke-width: 0.794032"/></g></g></g><g id="ytick_22"><g id="line2d_47"><g><use href="#m61d184bd3f" x="746.64" y="312.747669" style="stroke: #000000; stroke-width: 0.794032"/></g></g></g><g id="ytick_23"><g id="line2d_48"><g><use href="#m61d184bd3f" x="746.64" y="300.768243" style="stroke: #000000; stroke-width: 0.794032"/></g></g></g><g id="ytick_24"><g id="line2d_49"><g><use href="#m61d184bd3f" x="746.64" y="291.476278" style="stroke: #000000; stroke-width: 0.794032"/></g></g></g><g id="ytick_25"><g id="line2d_50"><g><use href="#m61d184bd3f" x="746.64" y="283.884191" style="stroke: #000000; stroke-width: 0.794032"/></g></g></g><g id="ytick_26"><g id="line2d_51"><g><use href="#m61d184bd3f" x="746.64" y="277.465172" style="stroke: #000000; stroke-width: 0.794032"/></g></g></g><g id="ytick_27"><g id="line2d_52"><g><use href="#m61d184bd3f" x="746.64" y="271.904765" style="stroke: #000000; stroke-width: 0.794032"/></g></g></g><g id="ytick_28"><g id="line2d_53"><g><use href="#m61d184bd3f" x="746.64" y="267.000138" style="stroke: #000000; stroke-width: 0.794032"/></g></g></g><g id="ytick_29"><g id="line2d_54"><g><use href="#m61d184bd3f" x="746.64" y="233.749322" style="stroke: #000000; stroke-width: 0.794032"/></g></g></g><g id="ytick_30"><g id="line2d_55"><g><use href="#m61d184bd3f" x="746.64" y="216.865269" style="stroke: #000000; stroke-width: 0.794032"/></g></g></g><g id="ytick_31"><g id="line2d_56"><g><use href="#m61d184bd3f" x="746.64" y="204.885843" style="stroke: #000000; stroke-width: 0.794032"/></g></g></g><g id="ytick_32"><g id="line2d_57"><g><use href="#m61d184bd3f" x="746.64" y="195.593878" style="stroke: #000000; stroke-width: 0.794032"/></g></g></g><g id="ytick_33"><g id="line2d_58"><g><use href="#m61d184bd3f" x="746.64" y="188.001791" style="stroke: #000000; stroke-width: 0.794032"/></g></g></g><g id="ytick_34"><g id="line2d_59"><g><use href="#m61d184bd3f" x="746.64" y="181.582772" style="stroke: #000000; stroke-width: 0.794032"/></g></g></g><g id="ytick_35"><g id="line2d_60"><g><use href="#m61d184bd3f" x="746.64" y="176.022365" style="stroke: #000000; stroke-width: 0.794032"/></g></g></g><g id="ytick_36"><g id="line2d_61"><g><use href="#m61d184bd3f" x="746.64" y="171.117738" style="stroke: #000000; stroke-width: 0.794032"/></g></g></g><g id="ytick_37"><g id="line2d_62"><g><use href="#m61d184bd3f" x="746.64" y="137.866922" style="stroke: #000000; stroke-width: 0.794032"/></g></g></g><g id="ytick_38"><g id="line2d_63"><g><use href="#m61d184bd3f" x="746.64" y="120.982869" style="stroke: #000000; stroke-width: 0.794032"/></g></g></g><g id="ytick_39"><g id="line2d_64"><g><use href="#m61d184bd3f" x="746.64" y="109.003443" style="stroke: #000000; stroke-width: 0.794032"/></g></g></g><g id="ytick_40"><g id="line2d_65"><g><use href="#m61d184bd3f" x="746.64" y="99.711478" style="stroke: #000000; stroke-width: 0.794032"/></g></g></g><g id="ytick_41"><g id="line2d_66"><g><use href="#m61d184bd3f" x="746.64" y="92.119391" style="stroke: #000000; stroke-width: 0.794032"/></g></g></g><g id="ytick_42"><g id="line2d_67"><g><use href="#m61d184bd3f" x="746.64" y="85.700372" style="stroke: #000000; stroke-width: 0.794032"/></g></g></g><g id="ytick_43"><g id="line2d_68"><g><use href="#m61d184bd3f" x="746.64" y="80.139965" style="stroke: #000000; stroke-width: 0.794032"/></g></g></g><g id="ytick_44"><g id="line2d_69"><g><use href="#m61d184bd3f" x="746.64" y="75.235338" style="stroke: #000000; stroke-width: 0.794032"/></g></g></g><g id="R_ylabel" transform="matrix(1.0160 0 0 0.9800 -11.903 7.459)"><text transform="translate(698.230914 236.916) rotate(-90)" font-size="13.2339" text-anchor="middle">Entries</text></g></g><g id="patch_8"><path d="M 768.456 483.4 L 768.456 76.6152 L 777.312 76.6152 L 777.312 93.3984 L 793.152 93.3984 L 793.152 113.4 L 808.704 113.4 L 808.704 134.64 L 824.04 134.64 L 824.04 155.664 L 839.808 155.664 L 839.808 176.508 L 855.36 176.508 L 855.36 197.28 L 870.624 197.28 L 870.624 218.3472 L 886.536 218.3472 L 886.536 238.2192 L 901.872 238.2192 L 901.872 260.316 L 917.28 260.316 L 917.28 289.7784 L 948.456 289.7784 L 948.456 396.6192 L 1197.216 396.6192 L 1197.216 483.4 " clip-path="url(#p42d30b3f41)" style="fill: none; opacity: 0.9; stroke: #3b75af; stroke-width: 1.323387; stroke-linejoin: miter"/></g><g id="patch_9"><path d="M 768.456 483.4 L 768.456 110.8512 L 777.312 110.8512 L 777.312 117.1656 L 793.152 117.1656 L 793.152 128.844 L 808.704 128.844 L 808.704 136.368 L 824.04 136.368 L 824.04 140.58 L 839.808 140.58 L 839.808 153 L 855.36 153 L 855.36 159.84 L 870.624 159.84 L 870.624 163.08 L 886.536 163.08 L 886.536 174.096 L 901.872 174.096 L 901.872 182.16 L 917.28 182.16 L 917.28 196.416 L 948.456 196.416 L 948.456 252.648 L 1197.216 252.648 L 1197.216 483.4 " clip-path="url(#p42d30b3f41)" style="fill: none; opacity: 0.9; stroke: #ef8636; stroke-width: 1.323387; stroke-linejoin: miter"/></g><g id="patch_10"><path d="M 768.456 483.4 L 768.456 128.952 L 777.312 128.952 L 777.312 130.608 L 793.152 130.608 L 793.152 139.032 L 808.704 139.032 L 808.704 142.272 L 824.04 142.272 L 824.04 146.808 L 839.808 146.808 L 839.808 154.368 L 855.36 154.368 L 855.36 159.696 L 870.624 159.696 L 870.624 163.728 L 886.536 163.728 L 886.536 168.048 L 901.872 168.048 L 901.872 173.448 L 917.28 173.448 L 917.28 183.492 L 948.456 183.492 L 948.456 223.2 L 1197.216 223.2 L 1197.216 483.4 " clip-path="url(#p42d30b3f41)" style="fill: none; opacity: 0.9; stroke: #519e3e; stroke-width: 1.323387; stroke-linejoin: miter"/></g><g id="patch_11"><path d="M 768.456 483.4 L 768.456 139.32 L 777.312 139.32 L 777.312 145.08 L 793.152 145.08 L 793.152 150.048 L 808.704 150.048 L 808.704 151.488 L 824.04 151.488 L 824.04 158.904 L 839.808 158.904 L 839.808 158.4 L 855.36 158.4 L 855.36 162.648 L 870.624 162.648 L 870.624 162.432 L 886.536 162.432 L 886.536 172.728 L 901.872 172.728 L 901.872 169.776 L 917.28 169.776 L 917.28 174.528 L 948.456 174.528 L 948.456 206.28 L 1197.216 206.28 L 1197.216 483.4 " clip-path="url(#p42d30b3f41)" style="fill: none; opacity: 0.9; stroke: #c53a32; stroke-width: 1.323387; stroke-linejoin: miter"/></g><g id="patch_12"><path d="M 746.64 412.632 L 746.64 61.2 " style="fill: none; stroke: #000000; stroke-width: 1.05871; stroke-linejoin: miter; stroke-linecap: square"/></g><g id="patch_13"><path d="M 1219.248 412.632 L 1219.248 61.2 " style="fill: none; stroke: #000000; stroke-width: 1.05871; stroke-linejoin: miter; stroke-linecap: square"/></g><g id="patch_14"><path d="M 746.64 412.632 L 1219.248 412.632 " style="fill: none; stroke: #000000; stroke-width: 1.05871; stroke-linejoin: miter; stroke-linecap: square"/></g><g id="patch_15"><path d="M 746.64 61.2 L 1219.248 61.2 " style="fill: none; stroke: #000000; stroke-width: 1.05871; stroke-linejoin: miter; stroke-linecap: square"/></g><g id="R_title" transform="matrix(0.9960 0 0 1.0600 3.184 -4.442)"><text x="982.944" y="53.259677" font-size="15.8806" text-anchor="middle">Background distributions for z observable in SR vs signals</text></g><g id="legend_1"><g id="patch_16"><path d="M 979.303445 151.662606 L 1209.98429 151.662606 Q 1212.631065 151.662606 1212.631065 149.015832 L 1212.631065 70.46371 Q 1212.631065 67.816935 1209.98429 67.816935 L 979.303445 67.816935 Q 976.656671 67.816935 976.656671 70.46371 L 976.656671 149.015832 Q 976.656671 151.662606 979.303445 151.662606 z " style="fill: #ffffff; opacity: 0.8; stroke: #cccccc; stroke-width: 1.323387; stroke-linejoin: miter"/></g><g id="patch_17"><path d="M 981.950219 83.166158 L 1008.417961 83.166158 L 1008.417961 73.902448 L 981.950219 73.902448 L 981.950219 83.166158 z " style="fill: none; opacity: 0.9; stroke: #3b75af; stroke-width: 1.323387; stroke-linejoin: miter"/></g><g id="R_leg0" transform="matrix(0.9960 0 0 1.0160 3.807 -1.950)"><text x="1019.005058" y="83.166158" font-size="13.2339">Region A - bkg</text></g><g id="patch_18"><path d="M 981.950219 102.948314 L 1008.417961 102.948314 L 1008.417961 93.684604 L 981.950219 93.684604 L 981.950219 102.948314 z " style="fill: none; opacity: 0.9; stroke: #ef8636; stroke-width: 1.323387; stroke-linejoin: miter"/></g><g id="R_leg1" transform="matrix(0.9960 0 0 1.0080 3.876 -1.215)"><text x="1019.005058" y="102.948314" font-size="13.2339">Region A - signal mPhi_1500</text></g><g id="patch_19"><path d="M 981.950219 123.098537 L 1008.417961 123.098537 L 1008.417961 113.834827 L 981.950219 113.834827 L 981.950219 123.098537 z " style="fill: none; opacity: 0.9; stroke: #519e3e; stroke-width: 1.323387; stroke-linejoin: miter"/></g><g id="R_leg2" transform="matrix(0.9960 0 0 1.0000 3.862 -0.576)"><text x="1019.005058" y="123.098537" font-size="13.2339">Region A - signal mPhi_3000</text></g><g id="patch_20"><path d="M 981.950219 143.248759 L 1008.417961 143.248759 L 1008.417961 133.98505 L 981.950219 133.98505 L 981.950219 143.248759 z " style="fill: none; opacity: 0.9; stroke: #c53a32; stroke-width: 1.323387; stroke-linejoin: miter"/></g><g id="R_leg3" transform="matrix(0.9960 0 0 1.0160 3.848 -3.004)"><text x="1019.005058" y="143.248759" font-size="13.2339">Region A - signal mPhi_5000</text></g></g></g></g><defs><clipPath id="p8069fcb72d"><rect x="92.88" y="51.696" width="485.208" height="360.864"/></clipPath><clipPath id="p42d30b3f41"><rect x="746.64" y="61.2" width="472.608" height="351.432"/></clipPath></defs></svg> 
<div id="labels">
<h1 class="t" style="left:229.2px;top:42.5px;width:473.5px;height:23.0px;font-size:22.6px">Signal (5000) vs Background distributions</h1>
<span class="t" style="left:460.4px;top:612.8px;width:11.1px;height:19.0px;font-size:18.9px">x</span>
<span class="t" style="left:35.3px;top:312.9px;width:11.1px;height:19.0px;font-size:18.9px;transform:rotate(-90deg);text-align:center">y</span>
<span class="t" style="left:100.1px;top:586.2px;width:57.9px;height:19.0px;font-size:18.9px">−0.50</span>
<span class="t" style="left:184.3px;top:586.2px;width:57.9px;height:19.0px;font-size:18.9px">−0.25</span>
<span class="t" style="left:276.5px;top:586.2px;width:42.0px;height:19.0px;font-size:18.9px">0.00</span>
<span class="t" style="left:360.7px;top:586.2px;width:42.0px;height:19.0px;font-size:18.9px">0.25</span>
<span class="t" style="left:445.0px;top:586.2px;width:42.0px;height:19.0px;font-size:18.9px">0.50</span>
<span class="t" style="left:529.2px;top:586.2px;width:42.0px;height:19.0px;font-size:18.9px">0.75</span>
<span class="t" style="left:613.4px;top:586.2px;width:42.0px;height:19.0px;font-size:18.9px">1.00</span>
<span class="t" style="left:697.7px;top:586.2px;width:42.0px;height:19.0px;font-size:18.9px">1.25</span>
<span class="t" style="left:781.9px;top:586.2px;width:42.0px;height:19.0px;font-size:18.9px">1.50</span>
<span class="t" style="left:57.9px;top:565.5px;width:57.9px;height:19.0px;font-size:18.9px">−0.50</span>
<span class="t" style="left:57.9px;top:502.9px;width:57.9px;height:19.0px;font-size:18.9px">−0.25</span>
<span class="t" style="left:73.8px;top:440.2px;width:42.0px;height:19.0px;font-size:18.9px">0.00</span>
<span class="t" style="left:73.8px;top:377.5px;width:42.0px;height:19.0px;font-size:18.9px">0.25</span>
<span class="t" style="left:73.8px;top:314.9px;width:42.0px;height:19.0px;font-size:18.9px">0.50</span>
<span class="t" style="left:73.8px;top:252.2px;width:42.0px;height:19.0px;font-size:18.9px">0.75</span>
<span class="t" style="left:73.8px;top:189.6px;width:42.0px;height:19.0px;font-size:18.9px">1.00</span>
<span class="t" style="left:73.8px;top:127.0px;width:42.0px;height:19.0px;font-size:18.9px">1.25</span>
<span class="t" style="left:73.8px;top:64.3px;width:42.0px;height:19.0px;font-size:18.9px">1.50</span>
<span class="t" style="left:213.2px;top:106.5px;width:25.9px;height:36.0px;font-size:37.7px">B</span>
<span class="t" style="left:718.7px;top:106.5px;width:25.9px;height:36.0px;font-size:37.7px">A</span>
<span class="t" style="left:213.2px;top:482.4px;width:29.1px;height:36.0px;font-size:37.7px">D</span>
<span class="t" style="left:718.7px;top:482.4px;width:26.4px;height:36.0px;font-size:37.7px">C</span>
<h1 class="t" style="left:1045.2px;top:58.0px;width:640.0px;height:20.0px;font-size:22.1px">Background distributions for z observable in SR vs signals</h1>
<span class="t" style="left:1360.4px;top:611.3px;width:9.6px;height:18.0px;font-size:18.4px">z</span>
<span class="t" style="left:932.1px;top:320.1px;width:63.9px;height:18.0px;font-size:18.4px;transform:rotate(-90deg);text-align:center">Entries</span>
<span class="t" style="left:1052.2px;top:586.0px;width:11.8px;height:18.0px;font-size:18.4px">0</span>
<span class="t" style="left:1121.0px;top:586.0px;width:47.0px;height:18.0px;font-size:18.4px">2000</span>
<span class="t" style="left:1207.4px;top:586.0px;width:46.9px;height:18.0px;font-size:18.4px">4000</span>
<span class="t" style="left:1293.7px;top:586.0px;width:46.9px;height:18.0px;font-size:18.4px">6000</span>
<span class="t" style="left:1380.1px;top:586.0px;width:46.9px;height:18.0px;font-size:18.4px">8000</span>
<span class="t" style="left:1460.5px;top:586.0px;width:58.8px;height:18.0px;font-size:18.4px">10000</span>
<span class="t" style="left:1546.9px;top:586.0px;width:58.8px;height:18.0px;font-size:18.4px">12000</span>
<span class="t" style="left:1633.3px;top:586.0px;width:58.6px;height:18.0px;font-size:18.4px">14000</span>
<span class="t" style="left:980.5px;top:489.9px;width:43.7px;height:20.1px;font-size:18.4px">10<sup>−6</sup></span>
<span class="t" style="left:980.8px;top:356.7px;width:43.3px;height:20.1px;font-size:18.4px">10<sup>−5</sup></span>
<span class="t" style="left:980.4px;top:223.5px;width:43.8px;height:20.1px;font-size:18.4px">10<sup>−4</sup></span>
<span class="t" style="left:980.7px;top:90.4px;width:43.4px;height:20.1px;font-size:18.4px">10<sup>−3</sup></span>
<span class="t" style="left:1415.2px;top:101.5px;width:133.5px;height:18.0px;font-size:18.4px">Region A - bkg</span>
<span class="t" style="left:1415.2px;top:129.2px;width:261.6px;height:18.3px;font-size:18.4px">Region A - signal mPhi_1500</span>
<span class="t" style="left:1415.2px;top:157.2px;width:261.6px;height:18.3px;font-size:18.4px">Region A - signal mPhi_3000</span>
<span class="t" style="left:1415.2px;top:185.1px;width:261.6px;height:18.3px;font-size:18.4px">Region A - signal mPhi_5000</span>
</div>
</body></html>
